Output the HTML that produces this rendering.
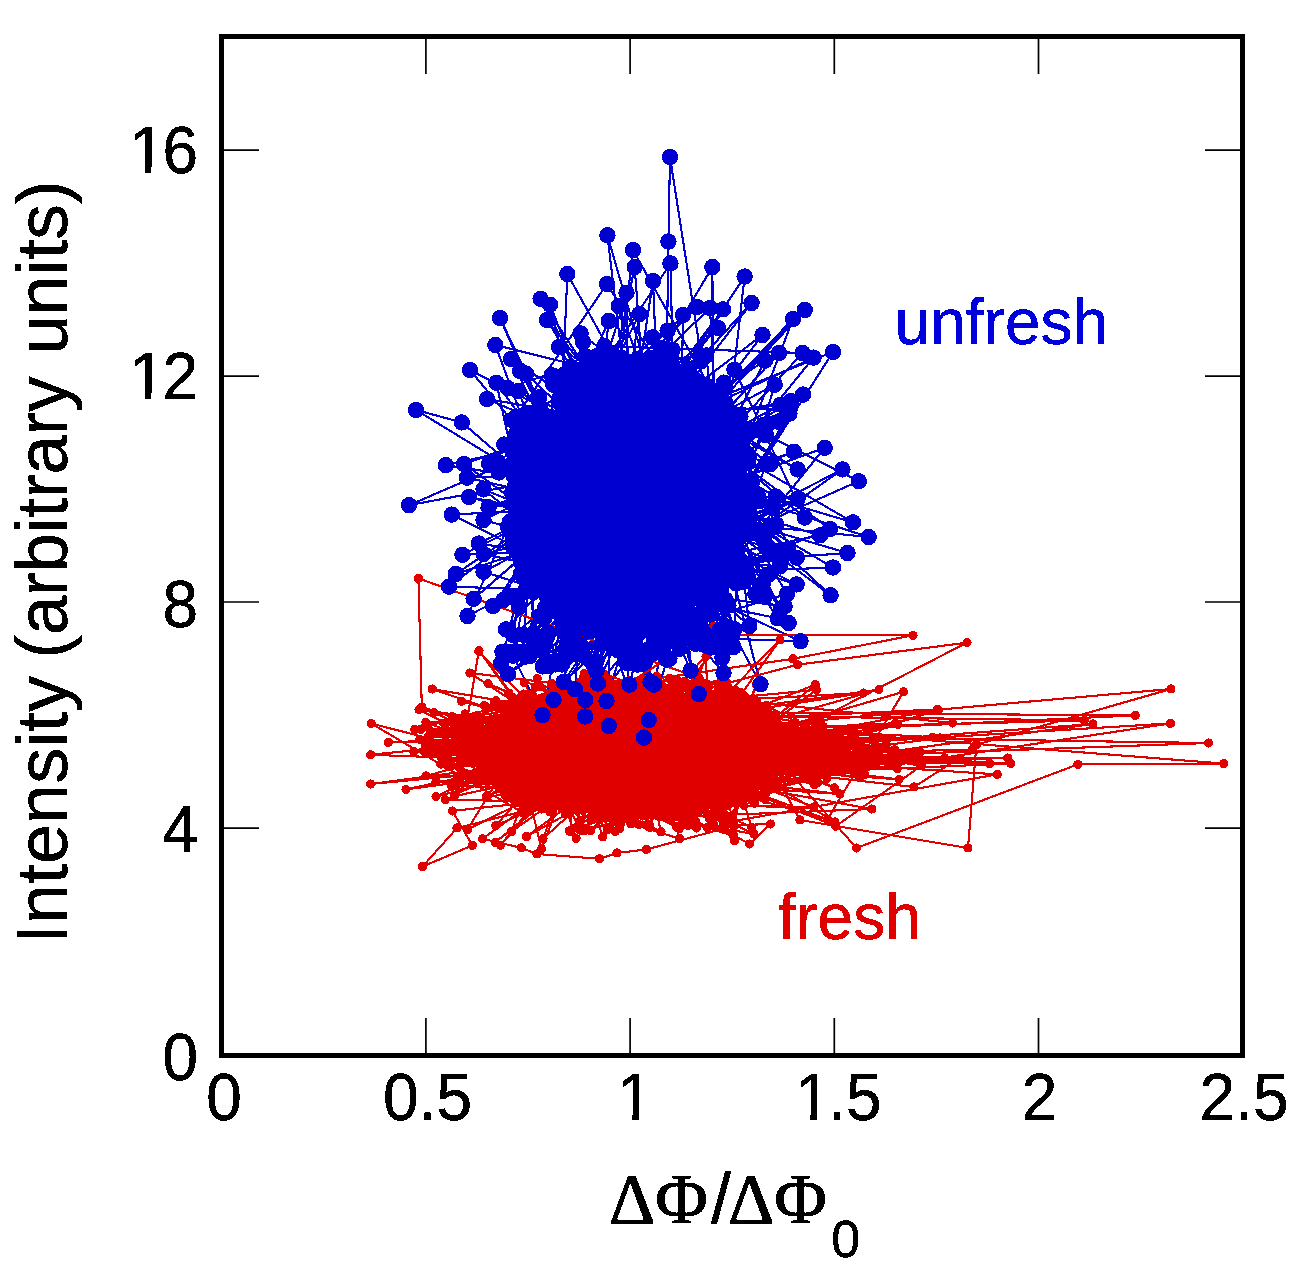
<!DOCTYPE html>
<html><head><meta charset="utf-8"><title>Intensity vs phase</title>
<style>
html,body{margin:0;padding:0;background:#fff}
svg{display:block}
text{font-family:"Liberation Sans",sans-serif;fill:#000;stroke:#000;stroke-width:.45px;font-kerning:none}
.s{font-family:"Liberation Serif",serif;stroke-width:1px}
</style></head><body>
<svg width="1309" height="1275" viewBox="0 0 1309 1275">
<defs>
<marker id="mr" markerUnits="userSpaceOnUse" markerWidth="10" markerHeight="10" refX="5" refY="5"><circle cx="5" cy="5" r="4.6" fill="#e00000" shape-rendering="crispEdges"/></marker>
<marker id="mb" markerUnits="userSpaceOnUse" markerWidth="18" markerHeight="18" refX="9" refY="9"><circle cx="9" cy="9" r="8.2" fill="#0000d0" shape-rendering="crispEdges"/></marker>
<filter id="al" x="-5%" y="-5%" width="110%" height="110%"><feComponentTransfer><feFuncA type="discrete" tableValues="0 1"/></feComponentTransfer></filter>
<filter id="bw" x="-5%" y="-5%" width="110%" height="110%" color-interpolation-filters="sRGB"><feComponentTransfer><feFuncR type="discrete" tableValues="0 1"/><feFuncG type="discrete" tableValues="0 1"/><feFuncB type="discrete" tableValues="0 1"/><feFuncA type="discrete" tableValues="0 1"/></feComponentTransfer></filter>
<polyline id="pb" points="602.1,552.8 548.7,454.7 569.3,591.2 610.7,520.3 601.5,430.9 614.2,518.7 575.3,431.1 696.4,380.6 464.2,464 578.3,547.4 635.6,513.2 599.5,469.3 562.5,509.9 644.4,486.6 595.8,630.4 606.1,544.8 548.2,462.9 674.4,618.5 656.5,401.2 830,529 644.3,602.8 656.3,474.9 736.9,548 728.6,422.9 562,664.5 583.7,513.5 610,459.2 493,606 637,393.2 712.4,267 713.4,490.2 575.9,541 660.1,428.7 685.1,542.5 697.2,436 556.5,586.2 707.7,426 532.7,423 643.9,572.8 709,494.5 716.1,566 577.9,481.5 733,631.8 725.8,600.9 680.1,455.6 626,598.6 508,674 641.5,563.2 678,515 613.5,505.9 562,455.3 637.1,579.8 513,503.5 637.1,507.2 561.3,446.7 615.3,514.7 572.8,575 681.3,397.5 670.8,389.1 659.7,492.9 615.3,412.8 588.4,495.7 740.8,437 687.3,471.6 703.6,615.8 557.3,588.3 616.5,445.3 573,479.9 724,463.2 679.6,534.8 650.3,423.7 662.1,564.9 530.8,454.5 641.6,410.3 604.8,574 624.8,545 549.7,489.5 674,543.2 535.2,519.5 573.1,539.9 588.5,369.7 558.1,532 579.8,438.7 682.8,589.4 507.8,526.9 672.5,383.7 549.2,446.5 606.5,701 670.2,484.7 614.7,517.5 682.2,623.5 729.8,430.7 652.4,501.2 636.4,582.7 621.5,466.5 589.7,615 647.1,412.3 553.2,384.4 729.2,578.3 649,488.9 489.2,463.9 661.3,488.3 755.3,593.9 698.7,414.9 483.5,520 645.6,564.9 703.8,550.9 636,516.4 720.2,501.8 716.4,512.6 641.9,475.7 672.5,385.5 533.2,440.1 726.7,478.3 585.2,593.3 556.5,422.4 603.4,412.9 660.1,403.6 604.8,591.7 842.4,469.4 644.1,609.3 620.1,547.7 627.6,592.5 670.7,608.8 607.9,468.9 673.3,463.2 724,440.4 682.4,479.1 654.9,413.4 657.7,487 652.7,518.8 585.5,434 502.4,651.8 655.1,549.4 668.5,432.9 723.5,534.6 618.4,530 535.1,491.4 718.5,581.6 689.5,426.4 724.7,514.9 668.8,525.2 650.7,549 627.1,551.2 621.9,450.2 623.3,583 674.1,497 646,606.5 744,563.9 595.6,444.5 592.1,456.2 608.8,321 528.5,499.9 602.7,609.4 698.9,549 603.4,564.3 691.6,465.1 678.1,463.8 709.2,426.6 514.9,486.2 657.7,526 565.5,439.2 623.3,476.1 527.5,559.5 664.8,444 632.1,622.1 658.3,550 530.1,552 619,455.7 557.3,532.6 629.2,453.4 605.6,514.6 542.3,590.7 636.2,370.5 601.8,437.8 600.8,455.2 612.2,559.2 640.5,498.1 649.4,485.4 574.6,562.2 623.9,634.6 648.4,507.8 647.2,593.2 449,586.6 570.1,494.3 620.9,413.7 576,396.8 589.4,515.3 633.4,555.9 720.9,595.2 540,406.9 607.5,463.3 634.1,467.1 708.2,434.5 669.8,369.8 608.2,482.6 673,480.7 612,475.9 650.1,504.6 658.7,641.7 671.9,550 749.4,493.7 603.3,481.9 610.7,490.4 602.9,562.1 635.4,537.5 644.6,482.4 551.6,535.1 622.5,437.6 627.2,628.9 587.5,439.5 557.5,387 661.4,632.3 695.3,570.7 627.7,497.2 728.7,559.4 678.8,388.1 598.6,514.5 624.8,661.3 614.1,463.5 598.9,488.1 714.9,585.3 621.4,579.7 582.5,522.8 640.2,397.1 624.1,493.4 575.7,540 619.4,390.3 700,474.8 663.9,422.1 684,520.1 565.9,597.9 483.5,571.8 626.4,496.6 698.1,415.7 604.2,378.9 639,506.4 576.6,625.8 633.7,527.8 742.3,455.9 686.6,466.1 644.5,575 632.5,586.5 725.3,446.1 744.6,276.5 660.9,402.3 748.9,430.7 583.2,596 630.1,450.7 698.8,694 657.6,526.2 553.7,446.1 569.5,628.3 547.7,486.4 676.5,474.6 635.8,458 634.7,428.1 601.8,529.7 671.1,515.9 702.4,494.3 659.4,517.2 653,534.6 635.9,565.7 762.7,583.7 594.3,590.1 608.6,415.9 637.1,578.7 617,530.2 620.1,395.7 620.2,537 698.2,397 714.9,561.2 642.9,467.4 594.4,506.6 632.1,559.5 666.1,407.8 543.9,495.5 546.7,444.5 641.6,568.4 527.2,586.9 605.4,433.1 684.5,554.5 668.5,428.6 569.7,415.4 635.9,444.8 612.4,510.3 671.1,475.2 682.3,398.8 651.2,522.6 602.7,566.5 584.4,563.5 571.9,429.4 686.7,613.6 568.5,436.5 624.2,466.3 706.6,551.4 742.1,518.6 732.8,491.1 524.9,427.9 560.1,503.6 682.2,631.9 657.9,498.2 650,485.4 705.8,527.5 644,737.6 550.3,452.9 680.4,452.3 638.7,385.1 582,517.4 524.4,512.4 469,497 713.5,547.3 542.5,429.9 626.8,455.5 666.1,535 650.7,510.8 611.7,535.8 662.5,450 678.2,590.7 698.8,504.1 662.6,462 722.1,522.6 615.2,557 718.2,491 600.7,462.9 651.2,453.6 591.4,661.7 564.9,571.2 696.2,499.9 579.9,501.1 612.5,567.5 616.5,561 629.4,684.7 704.3,397.4 588.9,480.5 622.8,434 605.5,534.7 609.8,463.9 526,656.5 575.5,479.4 572.1,544.7 531.5,470.3 664.3,414.8 673.7,535.1 623,634.1 662.8,385.2 665.4,464.7 700.1,545.8 580.1,398 629.1,488.7 574.3,549.4 679.6,648.8 643.9,596 680.1,513.7 767.3,424.6 554.7,584.6 596.9,492.3 612,621.7 726.2,413 556.3,523.2 639,477.8 622.9,403 664.3,359.3 648.8,379 566.6,546.4 637.5,664.6 613.9,538.5 601,560.8 680.3,568.7 700.5,420.2 615.9,377.1 616.5,535.2 697.9,527.8 605.8,497.8 633.9,562.5 599,507.8 697.7,575 601.2,463.3 586.8,413.2 619.6,576 833,567.5 664.6,468.3 736.9,567.1 733.6,647.1 688,520.8 666.5,377.8 722.2,604.1 612.1,420.6 709.7,518 710,528.6 665.2,564.5 562.9,435.8 672.3,473.2 576.2,486.6 652.8,377.1 644.6,566.5 648.8,720 629.2,480.4 626.9,435.1 662.6,626.8 624.4,427.9 599.2,498.2 565.9,534.2 513.2,597 667,523.1 545.1,563.1 567.7,388.7 648.6,531.4 619.9,613.2 572.1,579.5 722.1,530.8 575,689.4 587.2,514.2 619.9,586.7 613.1,465.1 655.9,502.3 708.7,547.9 573.4,508.6 643.6,567.7 680.5,406.1 588.9,437.7 562.5,595.2 554.5,544.3 696.8,521.3 667.2,477.1 643.6,611.5 596,586.6 613.6,367.4 749.4,508.7 559.9,491.1 645.5,507 695.3,389.4 622.6,461.2 563.6,456.2 684.7,503.4 661,647.9 701.7,465.7 673.3,423.3 655.1,414.3 573.4,493.2 598.7,487.7 622.3,524.4 678.6,501.5 590.5,472.8 557.4,470.5 569.9,416.2 691.4,443.8 647.1,549.5 520.4,420.2 622,586.9 721.8,507.8 634.1,560.9 646.7,530.1 571.6,651.2 648.6,554 611.7,385 596.1,573.3 560.8,462.7 611.1,471.5 650.8,546.3 647.4,455 555.8,541.4 692.1,482.8 647.2,417.9 692.8,622.1 605.2,504 542.2,532.7 610.2,533 588.2,540.5 536.2,545.6 514.2,519.7 662.4,411.4 601.2,644.6 636.5,498.6 673.4,464 607.4,235.3 654.7,631.4 521.4,547.4 728.4,515.3 672.5,464.8 643.2,394.7 595.5,398.1 623.1,429.2 634.5,600.7 542.7,666.4 650.2,396.5 645.1,558.9 603,598.1 562.8,481.8 621.8,491.9 687,429.2 624.7,512.9 559.3,420.5 616.7,422.1 545.5,615.4 644.9,455.2 766.3,435.3 660.8,395.9 550.6,534.8 645,369.3 514.8,532.5 687.6,371.7 723,309.4 523.2,573.1 688.6,411.3 664.4,502.3 634.6,474.4 672,619.7 666,504.9 622.7,532.3 542.4,516.7 716.5,494.1 656,413.1 619.8,516.9 649.3,594.3 664.3,528.6 668.4,241.6 670,157 701,356 510.2,467.6 694.3,507.8 650.3,358.2 574.9,481.9 636.7,571.7 470,370 657.6,467.1 737.8,568 645.1,471 620.5,557.2 657.1,623.8 740.2,572.2 553.5,553.4 642.8,493.2 553,515.5 640.7,519.5 626,440.2 672.1,432.7 519.1,438.6 536.4,508.9 647.6,459.2 635.8,479.6 709.8,583.5 543.2,564.2 681.8,528.2 603.4,536.1 695.4,567.7 634.9,624.2 609.6,456.9 690.3,478.7 587.3,544.2 688.5,620.1 561.8,589.2 610.2,563.6 592.1,437 664.7,515 697.3,506.3 685.8,376.5 562.9,593.2 626,627.1 547.7,515 652.4,501.8 612.9,424.2 611.5,476.5 629.7,430.8 583.6,492.1 669.4,633.6 565,439.6 591.4,487.6 478.8,543.5 627.5,567.6 605.8,500.8 710.9,549.9 557.4,610.3 661.9,483.9 614.2,507.9 721.7,545.3 669.7,519.1 627.6,663.5 600.4,477.5 588.2,423.5 562.6,573.6 648.3,649.6 673.4,397.2 619.4,396.1 496.5,461 569.2,463.1 676,441.2 623.2,508.9 574.9,584.2 682.1,499 656.1,637.3 722.7,638.8 535.3,545.4 596.5,670.6 628.4,586.8 665.6,488.7 642.5,466.5 543.4,482.8 527.2,496.1 534.2,645 583.1,489.8 650.6,682 592.4,600.5 634.6,515.7 580,391 656.5,551.2 670,558 618.7,306 682.5,478.1 512,420 661.2,348 651,456 610.7,505.8 747,453.6 641.6,424 719.2,516.8 584.9,581.5 569.2,533.4 527,466.6 645.4,496.5 668.8,509.7 687.8,402.2 729.9,472.8 667.8,367.3 647.8,521.6 764.7,596.5 634.5,405.6 525.4,415.7 633.2,551.4 702.1,558.3 793,319 561.5,561.1 674.9,447.6 649,414.3 611.6,524.2 723.3,458.2 635.6,490.6 746,573.8 630.2,575 682.9,538.5 711.7,461.3 684.3,501.1 699.4,415.8 686.2,545.4 462.4,554.8 545.7,513 648.4,487.7 574,580.7 555.3,501.1 620.6,357.5 628.2,488.1 534.3,535 710.7,595.6 660.5,425.7 695.4,486.4 705.9,504.9 690.9,498.4 637.6,497.4 668,527.6 625,542.4 627.3,634.2 744.9,452.5 542.8,462.2 636.6,631.5 612.9,526.1 578,586.7 660.4,604.3 728.5,512.1 714.9,452.1 559,347 610.2,433.2 641.3,491.3 540.6,298.8 691.3,529.5 545.6,512.3 644.7,511.3 673,471.8 563.5,511.8 542.6,470.4 524.4,460.7 513.1,451.1 574.5,426.7 657.8,479.7 670,518.7 696.3,592.7 594.8,471.9 632.7,362 597,498.6 588.6,437.8 671.3,360.8 661.6,452.7 653.5,485.8 606.4,480.8 633,250 731.2,425.7 729.9,518.4 621.9,471.7 600.3,492.9 709.6,526 700.4,588.5 728.9,532.2 665.2,384.2 586.9,401.9 623.1,464.2 683.1,607 764,432.4 524.3,450.4 680.5,402.4 663.2,517.5 597.7,450.7 644.5,608.1 741.5,499.1 638.3,429.8 610.8,589.7 732.2,523.6 663.7,435.3 658.2,394.3 597.6,435.4 577.5,452.1 657.1,495.1 627.2,416 569.9,576.2 629,547 601.5,392.2 604.2,485.6 742.8,574.5 618.3,650.6 677.8,568.2 643.7,516 614.1,510.6 650.4,519.3 659.8,489.8 670.6,443.6 673.2,478.6 707.3,646 599.3,375.5 557.5,547.8 604.6,489.3 542.8,486.2 747.1,521.3 683.6,462.8 664.9,502.6 580.8,480.7 705,454.5 702.1,616.5 659.2,536.9 682.8,386.6 552,457.8 661.5,471.8 565.1,477.1 706.5,487.8 653.6,455.3 557.2,502.1 702.5,478.3 628.9,604.1 606.6,450.7 487,399 679.2,432.3 670,484.7 613.2,458.1 691.2,421.3 527.1,452.8 698.2,488.8 794,451.8 622.4,510.9 518.2,424.5 614,539.2 581.9,618.4 722.9,507.6 615.2,429.7 520.8,457.7 652.9,439.2 716.6,428.2 706.6,497 644.7,597 659.8,560.5 676.7,453.9 744,497.6 700.1,546.7 574,504.4 640.1,497.1 668,508 626.1,479.3 607.1,404.1 788.1,549 676,441.9 614.8,470.2 555.6,477.4 573.2,632.7 674.6,526.2 558.8,491 711.3,647.5 615.4,437.7 579.4,559.1 690.7,513 650.8,499.2 668.8,552.3 655.2,405.1 789.4,410.2 546.1,500.6 569.5,511.2 539,397.4 625.8,507 611.8,575 585.4,356.2 542.9,493.9 693.1,468.7 732.6,629.9 655.9,573.1 628.2,397.7 729.5,491.3 620.5,625.4 718.4,564 619,509.1 652.7,370.5 658.9,582 661.1,443.8 602.5,529.2 643.3,578.2 723.5,673 730.8,533.7 653,468.8 570.5,434.4 618.7,550.6 544.6,617.7 634.8,511.2 779,353 689.8,451.6 646.7,465.4 653.5,426.3 670.2,585.7 712.8,484.8 616,547.1 672.5,556.7 644.1,519.2 678.7,441.6 627.7,589.8 648,500.7 691.9,488.8 653.8,433.1 635.3,484.5 596.2,494.8 688.9,388.5 651.6,512.4 605.5,584 651.6,500.2 643.1,368.6 623.2,573.3 607.1,479.6 746.2,503.3 684.5,500.6 713.9,577.8 583.1,491.2 673.4,631.7 585.3,509 626.4,584.9 670.5,378.5 570.7,559 551.9,527 663.5,490.2 639.1,556.9 547.7,540 724.5,493.5 533.7,502.6 555.2,465 582.9,424.3 737.4,462.2 591.9,512.8 675.8,435.1 587.9,520.3 717.8,440.7 666.3,635.6 623.6,596.6 659.7,497.1 676,505.8 528.7,531.4 725.8,410 663.1,415.1 581.2,463.6 619.8,548.5 609.8,587.7 576.8,504.1 542.4,651.1 668.6,502 553.3,568.1 539.2,554.1 673.9,641.1 620.8,409.6 650.2,582.1 620.1,424.5 566.3,619 642.1,457.1 673.4,631.1 643.2,368.8 644.2,562.6 690.6,670.6 674.8,402.5 568.2,561.9 587.4,581 684.8,386.9 640.6,525.5 696.6,400.2 858.8,481.2 664,567.3 697.7,461 675.4,524.3 700.5,572.8 663.3,402.4 692.5,565.1 537.2,577.2 555.4,426.5 694.7,525.1 759.3,501.2 598,683.5 687.1,484.1 651.9,455.7 617.2,531.3 609.8,449.3 691.2,523.8 640,503.2 693.5,535.2 665.1,539.4 546.6,596.3 544.6,523.2 619.4,532.8 525.3,434.7 633,479.6 646.2,503.9 614.2,386.5 701.5,459.3 704.6,452.8 617.4,503.2 612.8,446.2 572.2,587.1 590.1,393.7 718.2,489.1 685.7,526.7 631.8,486.5 615.6,427.2 642.4,589.7 683.9,588.3 555.3,573.4 706.7,556.1 669.2,571.9 660.1,425.2 587.4,520.2 645.2,569 563.3,561.4 685.8,450.2 617.5,468.8 672.4,388.7 688.8,489.2 572.2,553.4 627.2,375.8 648.2,423.5 540,441.9 637.8,509.8 660.8,543 682.5,449.4 630.8,513.4 657.1,498.3 524.1,473.6 671.6,396.7 559.1,499.1 578.3,542.2 641.1,610 597.9,475.2 658.2,621.4 601.4,474.7 587.5,370 532.3,497.7 590,624.3 638.5,548.9 654.3,493.8 520.8,574 646.7,446.9 550.7,579.9 629.9,563.4 668,492.8 541.3,559.8 451.8,514.6 752.8,498.3 670.6,527.4 659.1,441.6 632.2,495.5 722,438.2 586.8,497.5 576,468.8 640.8,388.3 629.3,422.9 623.1,448.3 597.9,355.3 551.6,375.2 711.2,563.1 657.5,418.9 532.9,507.8 630,363.7 595.7,661.3 663.5,624.2 603.1,444.5 612.5,507.1 618.4,467.2 612.3,640.2 553.8,466.7 675.7,462.9 644.1,564.7 604.7,517.8 674.6,534.4 509.9,521.9 556.7,435.5 610.2,450.5 636.1,479.3 667,472.2 585.3,716.5 650.2,629.2 600,533.9 726.7,438.5 644.4,468.5 716.8,470.6 663.1,514.4 611.1,358.2 541.7,453.7 673.8,368.4 564.5,374.3 627.5,579.2 649.8,497 614.3,586.5 643.1,524.7 609.8,599.5 691.2,413.5 651,568.7 662.6,500.2 713.8,474.2 507.6,388 570.7,367 650.7,551.9 732.8,525.4 698.4,388.4 578.6,508.8 676.7,450.1 780.7,609.9 564.8,466.8 589.7,493.7 661.4,560.7 619.4,514.2 565.1,659.2 529.9,502.6 681,576.6 603.9,476.5 544.4,461.4 606.7,419.4 704.5,446.9 524.6,591.8 561.3,488.7 513.4,461.9 634.9,507.7 643.6,475.8 575.3,488.9 605.6,608.9 609.7,572.1 523.8,528.8 679.9,393.5 549.4,666 722.9,428.3 663.6,369.4 685.8,593.6 676.5,528.9 670.5,263.5 547.9,447.8 535,458.1 668.3,477.1 672.1,473.6 515.6,509.7 641.2,575.3 591.1,393.2 657.9,462.5 665.7,428.9 565.4,476.2 578.8,495.1 561.9,579.2 708.4,515.8 652.7,337.3 714.9,572.1 580.7,525.4 586.3,498.3 719.3,466.8 685.7,427.9 651.7,549.6 700.9,529.1 656.7,410.7 695.5,425.3 669.1,449.7 513.2,547.3 599.2,481 572.8,472.5 526,373.6 720.9,558.5 562.7,478.7 697.1,541.3 609.6,517.4 655,481.4 557.8,591 652,475.1 544.4,446.4 632.3,552.4 591.8,434.3 722.4,657.6 678.3,562 546.1,518.7 657.5,611 687.6,372.3 702.5,644.4 519.4,652 622.1,444.3 637.6,581.5 751.7,492.7 672,504.5 630.1,537.3 553.8,505.6 589.6,555 575.8,463.7 672,376.8 611.7,523.8 512.7,538.8 748,462.2 606.8,522.2 678.4,607.3 618.6,571.1 669.6,550.7 639.8,374.8 669.1,443.6 663.5,483.4 597.9,630.7 576.6,402.8 609,490 617.9,550.3 653.7,642.6 610.7,538.4 625.3,463.8 551.3,494.6 622.1,514.2 645.5,493.1 643.8,394 656.1,405.3 642.7,444.9 697.5,630.2 658.5,504.6 601.7,486.4 541.3,505.1 693.9,501.3 671.8,604.8 833,352 680.5,412.7 445.9,465.2 657.8,497.4 599.6,563 618,491.9 631.2,650.2 619.6,439.8 610.5,485.7 604,443.7 625,460.6 602.4,582.1 642.2,434.4 723.9,382.6 702.2,412.7 548.4,453.9 641,506.9 573,384.3 639.2,524.3 594.7,440 554.5,497.8 622,426.3 780.6,404.7 717.4,438.9 721.5,598.3 784.6,606.4 526.3,427 590,444.3 569.6,570.7 663.4,479.4 698.3,587.9 607.9,559.6 565.2,649.1 617.5,516.1 721.8,551 635.9,604.9 644.8,662.2 612,511.5 630.6,400.6 533.8,552 733.9,448.3 691.3,585.8 598.9,544.8 605.9,521.9 664.8,467.5 542.8,561.8 614.7,625.6 665.5,406.4 610.9,397 608.8,514.1 638,496.2 539.3,427 671.1,511.9 624.1,501.1 657.7,480.8 653.3,520.8 644.4,363.8 629.7,459.1 632.3,479.3 557.9,572.9 684.2,433.7 774.7,384.7 729,542.2 613.5,450.9 621.1,487.5 648.9,501.2 650.9,526.5 584.2,656 586.4,597.8 610.2,598 580.6,333.4 668,401 654.7,445.8 644.1,470.9 636.4,547.4 621.2,542.8 763.5,424.8 553.1,605.6 618,440.1 597.9,518.7 663.5,582.8 604,436.9 646.4,589.2 599.1,405.3 697,307 609.7,373.8 632.1,477.6 713.7,591 643.7,521.6 653.4,448.4 577.7,544.2 606.3,541.5 609.1,538.5 608.8,725.9 525.5,500.7 525.2,448.1 601.3,499.6 634.9,663.6 609.3,404.1 675,439.8 612.6,418.9 622.1,372.7 568,485.7 605,492.8 677.1,451.8 548.8,570.3 503.5,600 608.7,362.1 582,484.2 698.8,458.1 697.1,458.5 567.9,489.6 566.9,539.9 561.1,466.9 623.8,491 634,519.8 628.5,491 609.7,543.5 607.2,515.5 741.7,446.3 813.5,357.6 690.3,415.4 574.9,461.9 626.5,293 628.1,383 631.3,533.5 684.2,517 604.1,527.8 614.4,590.4 588.2,501.3 668.9,463.7 676.7,574.8 663,530.8 519.3,516.2 643.5,546.9 612.8,522.2 617.5,475.1 473.6,598.8 573.4,512 671.3,481.3 591.4,464.5 715.3,491 562.3,438.5 681.1,415.6 684.1,428.6 549.4,459.6 649.4,484.3 653.7,485.2 611,588.1 571.4,504.7 596.7,387.8 674.3,485.1 627.9,490.7 589.2,568.3 591.3,516.9 416,410 461.8,422.4 600.6,541.5 599.1,525.5 496.4,382.8 545.1,607.8 521.2,562.2 483.5,554 657.6,511.7 542.6,442.5 652.2,496.5 642.6,512.7 669.8,408.7 624.7,518.2 643.3,613 652.9,371.4 574.3,458.9 578,457.6 623.3,519.9 681.3,557.4 593.9,463.2 634.7,267 643.9,392.4 677.3,604.9 662.8,494.4 679.7,427.7 696.6,564.6 675.1,579.9 648.8,359.3 626.1,537.1 520.4,523.8 640,431.7 598.3,536 774.1,526.6 663.6,467.6 699.1,494.7 703.2,515 627.6,499.9 652.1,443 572.9,556.6 607.6,539.7 483.5,489.4 545.8,539.8 694.5,567.2 606.1,516.3 595.6,569.2 559.6,510.6 656.8,570.1 677.2,594.7 574.2,420.1 630.2,398.3 766.2,463.9 710.5,614.3 600.7,418.5 567.1,516.3 659.8,439.3 682.5,517.4 708.1,636 718.3,555.6 665.1,454.6 544.8,479 692.5,457.1 788.7,623 710.2,478.3 663.6,473.3 528,517.6 584.9,484.4 581.6,483 668.2,429.6 690.7,407.1 583.6,550.8 602.3,576 553.4,554.4 580.9,536.4 565,414.6 651.8,379.2 700.6,440.6 655,631.5 775.4,551.2 675.7,483 655,584.8 536.8,584.9 709.7,434.6 595.4,465.2 608.2,374 595.9,518.5 707.2,517.9 661.9,559.3 516,433.9 567.3,422.2 614.1,508.7 635.3,458 595.8,547.3 573.6,455.2 627.9,569.1 847.5,553 641.2,492.3 672.7,527.2 613.4,483.5 684.4,510.4 726,466.1 656.8,577.3 606.8,499.1 574.5,481.2 663.9,556.8 618.7,378.2 692.2,633.7 590,448.2 606.5,620.4 617,627.6 593.8,453.7 676,537 599.7,504.5 575.4,483.8 644.3,365.3 580.9,427.2 652.2,423 580.7,505.1 710.4,546.3 710.7,582.4 650.1,584.1 765,360.7 571.4,485.7 676.9,497.8 541,474.6 642.3,413.9 661.5,559.8 602.3,517.2 653.8,486 604.6,601.1 636.9,496.9 661.5,470.1 654.7,462.4 692.4,460.9 547.5,661.6 715.1,430.8 618.6,454.3 686.6,498.9 656.2,544 680.9,503.7 646.6,364.7 539.7,556 617.6,406.6 629.5,480.1 686.3,514.3 585,595 537.5,455.7 674.5,528.1 621,533.2 593.2,601.2 629.7,483.8 660.3,547.4 640,628.5 625.7,384.3 543.5,508.9 685.2,400 723.8,600.8 523,456.6 648.9,505.5 586.6,466.3 723.9,389.3 539,584.5 643.8,477.2 554.5,538.4 611.3,390.2 670.7,496 614.8,593.7 642.2,505.8 685.5,504.9 731.7,439.7 621.7,461.5 720.6,562.9 592.5,492.1 588.5,630.7 583.6,525.8 674.4,431.3 690.9,630.5 593.4,488.6 607.8,535.1 592.2,521.4 710,415.1 674.3,579.2 585.5,457.1 626.9,397.2 574.2,425.7 635.2,523.7 532.2,518.6 549.7,444.5 593.8,453.9 652.4,506 586.9,475.2 570.8,517 613,405 558.9,402.2 672.4,448.2 734.1,498 675.7,512.8 620.9,600.6 672.1,489 708,580 571.4,503.8 638.9,517.5 590.2,502.5 728.9,514.9 580,610.2 666.9,659.6 561,493.7 731,470.4 749.4,626 608.8,501 665.6,417.5 614.3,631.6 506,629.4 650.3,471.5 531.5,585.7 588.7,521.9 609.2,452.5 628.9,522.1 642.4,543.6 644.6,424 617.1,448.4 656.6,469.3 657.1,558.9 682,532.5 580.9,455.2 704.9,456.2 638.6,371.7 582.9,450 718,328 581.7,470.9 681.9,477.5 593.2,417.9 707.2,533.3 612.4,433.2 678.9,483.4 583.1,517.3 693.7,387.2 619.6,559.8 593.9,416.6 699.3,399.7 704.4,566.8 601.8,520.4 686.6,419.7 600,492.6 596.7,562.1 637.9,623.3 588.7,455.1 536.4,577.9 571.8,590 578.6,415.3 581.9,421.5 704.3,385.1 698.8,518.9 628.5,548 635.7,511.6 712.4,505.6 655.5,460.5 636.4,513.9 868.7,537 636.5,462.1 540.3,615.7 675,391.2 633.9,602.4 580,644.5 681.1,463 721.3,555.2 659.8,494 582.4,426.8 703.9,573.3 690.2,527 667.8,540.5 593.3,536.2 574,514 657.5,487.6 660.9,597 645.8,513.5 526.6,582.1 628,458 622.5,599.1 621.3,397.9 711.8,555.7 583.4,491.4 586.2,461.7 553.4,375.9 684.8,586.1 643.8,471.6 583.8,504.6 672.5,531 577.2,370.2 598.4,425 686.7,485.6 512,493.1 659.1,517.3 703.7,407.9 553.6,418.3 645.9,449 643.8,489.7 619,393.7 779.7,564.7 535.2,459.8 569,597.3 691.3,467.5 698.4,515.2 709.6,503.3 743.7,437.7 729.6,415.6 694.7,502.4 557.9,518.1 684.7,470.4 649,629.2 682.3,474.5 551.5,512.7 643.8,376.7 632,418.9 653,281 662.2,504.6 559.1,593.2 676.1,403.7 764.6,536.2 601,511.1 640.6,455.5 551.6,455.4 613.6,485.4 650,429.1 612.1,369.1 639.4,314 611.6,495.4 663.1,616.8 666.4,436.9 605,528 719.5,629.9 668,450.8 656.7,544.5 617,420 623.7,404.7 707.9,530.1 607.5,583.5 597.2,541.8 614.1,517.2 539.3,575.7 600.9,520.1 634.2,455.6 564.4,563.1 610.3,584.6 696.6,512 717.2,598.6 687.2,465.1 554.4,542.1 690.6,380.4 796.7,557.7 690.8,521.6 651,479.4 653.5,622 523.5,514.1 658.3,504.5 557.8,609.8 712.6,390.6 657.6,472.4 605.2,467.3 626.6,437.3 595.7,509 582.9,405.9 705.1,532.9 698.9,592.2 570.7,522.6 548,462.8 620.3,478.2 656,550.8 565,380.1 555.9,496.1 605.4,531 688.6,426.7 618.5,438.7 566.1,469.5 567.2,518.8 561.1,470.4 651.7,554.6 775.7,496.6 702,454.7 606.2,352.5 804.7,517.6 734.4,369.7 703.1,589.4 683.7,403.5 767.1,548.5 666.3,610 679.6,563.5 776.5,524.7 546,421.4 648.9,480.4 630,534.7 688.5,496.5 610.2,472 720.1,517.3 727,646.6 623.9,551.5 653.3,440.1 707.4,472.2 656.8,548.8 602.2,417.2 613.6,513.6 567.9,641.2 644.5,518.3 565.4,444.1 612.9,458.3 605.5,621.7 529.9,539.4 696.2,495.7 646.5,403.1 690.4,471.9 746.5,504.6 640.7,516.2 594.7,550.3 467.5,616 542.2,451.4 646.8,382.1 664.1,530.9 663.3,551.9 603.6,463.4 589.8,504.9 673,409 723.3,530.4 561.3,576.9 611.4,539.1 656.2,443.2 677.1,633.3 650.7,414.7 672.3,503.6 670.7,558.9 735.9,583.3 616.1,577.7 511,359 674.4,467.9 567.4,274 560.1,439.2 711.1,479 516.2,491.9 621.6,397.5 606.9,492.8 649.5,541.6 626,461.5 578.8,481.7 645.8,565 619.8,407.4 652,582.4 626.9,514.9 730.6,441.9 656.7,407.6 748.7,456.3 648.9,507.8 637.1,365.4 614.3,558.4 632.3,606.2 607.3,501.9 574.3,498.4 758.1,496.1 713.2,522.6 670.9,557.7 578.3,460.2 622.1,376.6 684,408.8 636.4,496.9 711.9,416 564.9,610.4 523.8,635 535.5,498.4 543.3,638.4 589.1,503.2 665.7,579.8 582.9,616.6 640.9,396.2 551.8,455.9 638.1,537.1 725.8,555.1 509,652.1 632.6,504.1 673.6,520.1 760.5,684.2 699.5,449.1 634.4,635.2 660.1,374.9 592.5,368.5 722.1,541.9 732.5,562.5 660.6,571.1 601.9,497.5 661.6,562.9 637.5,511.5 729.1,457.7 650.8,358 582.3,438.3 744,581.8 586.3,459.3 740.9,481.3 698,544.5 634.4,457.4 646.5,386.4 630.2,492.4 522.7,529.7 556.3,517 678.9,482.3 618.3,514.6 603.1,507.2 656,457.3 614.5,467.1 675.1,550.4 573.6,471.4 645,476.8 688,620.1 650.4,439.7 609.9,571.4 571,424.8 715.9,414.7 631.5,547.7 612.8,482.7 636.5,404.8 533.1,592.2 594.2,386.8 534.9,455.5 570.9,442.3 611.1,465.5 716.9,583.5 666.9,427.2 547.1,481.6 600.4,612.6 636.4,535.5 599.9,508.6 585.6,403.6 681.5,468.9 575.6,400.8 657.2,491.4 618.7,452.3 672.7,534.1 679.5,419.5 674.3,531.7 727.3,453.8 706.5,508.7 597,490.4 651,514.1 604.6,491.5 560.8,510.5 678.3,480.2 724.7,503 672.3,604.5 652.7,582.2 727,481.2 488.6,507.3 593.7,468.9 633.7,438 610.1,571.8 577.3,567.1 565.1,444.1 686.9,507.2 658.5,372.4 584.7,499.5 539.6,475.9 684.3,612.6 680.3,419.1 619.7,560.1 640.3,488.7 668.6,516.6 645.8,537.2 621.4,617.5 688.5,426.6 853,522.4 693.3,475 643.4,438.4 614.4,647.3 528.3,538.6 591.5,437.9 622.4,515.1 523.3,527.6 631,379.7 698,464.5 703.2,576.1 711.1,606.9 686.7,583 527.1,440.2 685.6,452.6 685.9,570.9 629.6,388.1 651.2,558.6 569.6,507.8 680.6,546.6 691,388.8 625.2,375.2 640.4,550.7 603.2,391.3 591.6,492.3 664,450.2 704.1,535.3 651.3,495 554,492.4 608.8,563.2 594.6,665.9 644.7,481.9 575.3,513.7 580.8,462.3 712.6,430.6 595,560.6 538.7,461.1 687.1,619.7 558.4,561.5 665.6,505.1 658.5,446.3 620.4,475.6 636.4,514.4 577.8,434.1 681.7,536.7 648.8,506.6 666.3,464.3 529.4,656.3 634,518.9 754.8,493 726.4,580.3 662.9,566.2 626.8,603.8 680.7,560.7 587.6,548.1 599,544 544.2,536.9 554.6,447.8 684.3,478.1 543.3,473.2 662.1,363.6 552.7,468.3 655.8,561.6 622.4,446.6 637.7,426.5 601.3,477.5 587.9,542.7 672.6,436.7 580.7,526.9 639.8,504.6 734.6,629.2 676.4,459.6 662,395.4 679.6,459.1 603.8,504.4 665.2,486.9 596,487.5 664.9,388.3 797.6,469.4 638.5,381.2 568.7,509.3 518.1,391.1 576.3,428.7 639.3,416.1 681.2,404.4 549.1,593.2 570,620.3 571.6,437.8 597.2,611.4 655.1,450.4 713.3,485.6 600.7,383.1 498.8,472.5 699,445.5 601.7,479.6 601.9,505.8 617.9,463.9 614,476.8 647.5,613.5 566,422.1 694.1,512.2 560.5,391.5 718.2,468.2 614.8,415.1 614.6,356.2 557.7,578.3 643,482.1 657.3,459.1 590.6,460.4 588.1,515.1 564.5,588.3 620.6,583.5 599.9,596.1 617,511.1 606.9,484.9 661.2,393.4 609.9,529.8 593.1,579.9 646.2,629 593.3,561.3 658.6,489.7 694,526 641.2,405.7 585.8,442.3 570.8,579.9 558.9,420.1 623.5,574.3 657.7,534.2 632.9,599.4 570.6,400.1 649.1,582.5 712.1,484 663.2,467.4 711.5,493.4 645.1,381 569.1,484.2 680.2,468.7 595.3,482.6 556.1,382.2 513.1,635 803,394.6 721.6,525.2 710,308 574.8,438.7 667.7,450.3 804.8,310 601.6,530 628.2,457.2 749.7,429.4 699.1,466.2 586.8,546.1 572.5,376.9 583.9,589.4 556.3,604.9 667.4,555.9 526.6,468.7 568.9,599.3 678.6,565.3 620.9,514 688.2,398.9 639.1,402.3 629.1,513.4 591.3,450.8 616.4,619.1 727.7,503.4 598.8,604.8 666.9,461.4 664.8,570.3 562.6,550.5 668,538.3 657.1,486 602.9,459.8 612.7,516 558.3,565.3 575.7,491.7 620.7,578.7 651.6,473.2 591.6,590.1 575.9,590 569.9,434.9 572.5,623.3 701.2,484.8 617.9,631.2 667.1,430 576.8,436 547.3,480.1 604.3,549.6 694.2,406.6 624.1,607.2 520.1,447.2 647.9,561.8 667.6,480.5 585.6,532.8 791,401 713.2,415 509.9,466.1 650.7,570.4 686.8,504.8 577,397.7 586.1,418.6 576,641.3 556.8,441.9 640.7,438.4 574.9,526 635.5,547.9 545.9,483.2 533.7,540.4 608.2,602.4 623.3,627.3 656.4,569.6 689.8,497.7 704.5,424 611.8,580.4 552.7,584.5 587.1,474 655.6,584.5 653.5,497.8 554.2,376.2 663.2,593.8 550,304.7 593.9,484.4 585.9,490.8 609.5,641.5 647.9,497.8 667.4,597.6 637,429.2 524.7,480 640.7,462.3 616.3,614.7 696.4,395.1 657.1,461.3 605.1,415.4 624.9,517.4 560.4,431.6 740.8,510.4 631.9,456.1 603.2,610.1 697.6,510.4 573.3,461.2 635.8,481.9 583,342 567.6,385.9 633.8,384 748.1,577.2 529.4,413.2 645.3,463.2 548.1,491.7 600,419 685.7,484.9 601.6,450.1 598.8,454 721.4,487.4 607.8,481.6 597.5,585 573,654 666.9,472 830.6,595.3 682.1,457.2 650.2,486.5 712.9,434.2 514.9,452.7 624.8,471.3 673.8,604.4 626.9,504 615.7,428.9 610.7,478.4 646.7,553.1 545,574.7 772.3,526.1 698.7,544 639.9,568.7 567.2,467.3 550.4,468.2 655.1,558.7 702.4,524.2 600.2,589.4 672.3,475.1 650.2,534.7 745.3,502.1 623.9,526.2 574.4,545 625.1,598.2 636.1,467.8 578.3,586.7 645.3,368.8 562.8,494.6 603.9,583.4 604.3,346.2 802.5,353 602.8,570.6 797.6,498.8 716.2,539.9 586.1,432.5 731.3,497.8 609.1,480.7 704,489.3 619.7,448.5 586.7,445.6 534.5,440.8 725.7,549.7 645,502.5 564.7,465.4 723.4,570.4 653.5,653.5 742.9,530.7 547.4,491.4 621.9,580.7 711.7,539.6 584.3,489.5 637.7,526.8 626.9,368.6 581.8,415 648.9,536.6 703.4,639 689.5,486.4 728.9,566.1 691.3,457.9 580.2,566.5 658.8,429.3 700.8,361.6 613.5,423.5 553.9,577 751.4,533.3 698.3,484.8 654,684.7 614.2,557.8 616.5,477 724.4,409.1 553.2,506.8 796.7,584.4 603.8,487.4 599.8,573.8 628,643.2 543.5,524.5 674.8,444.6 562,551.6 680.1,414.9 614.8,367.8 661.6,532.3 537.8,432.8 613.8,528.3 567.4,633.2 587.1,502.6 610.5,481.2 723.1,549.2 584.1,406.6 676,442.3 537,567.3 678.3,407.3 694.4,615.3 720.8,577.9 625.1,502.6 690.4,498.1 556.9,504.2 568.4,531.1 699.6,537.5 601,563.8 629,568.2 572.6,552.6 666.1,552.9 591.8,526.3 588.7,376.5 599.9,630.6 675,415.6 577.1,424.4 599,469.4 653.5,369.9 590,546.5 626,381 600.5,560 543.7,540 710.5,518.6 617.1,360.7 683.5,397.4 513.6,475.8 467,477.6 588.1,505.4 545,426 653.2,576.1 621.5,414.6 616.6,519.4 562,469.3 537.8,560 555.5,664.4 625.7,568.1 676.8,413.3 623.8,524.7 571.6,579.1 687.8,611.3 626.7,389.5 629.1,480.3 585.9,428.6 618,633.2 563.5,682 701.6,475.5 608.2,399.9 606.7,499.2 579.8,504.1 602.9,640.3 740.8,490.3 582.9,494.8 605,416.4 675.9,533.1 638,468.7 577.6,474.2 677.3,633.2 621.5,569.2 648.8,500.3 542.1,526.6 550.4,524 720.9,585 661.3,456.8 605.2,615.2 772.5,507.9 622.7,549.2 651,582 631.5,493.3 713.6,547 620,438.2 614,520.5 515.7,509.5 553.8,546.5 824.7,447.8 713.1,585.6 602.8,396 562.6,429.5 527.4,454.2 643.6,447 651.5,522.5 594.4,494.4 572.7,453.9 667.3,567.8 576.3,570.3 700.6,523 637.1,632.3 501,663.5 560.7,420.8 655.9,434.4 777.7,618.3 630.4,588.1 665.1,437.5 639.8,360.4 637.3,503.9 650,529.6 656.6,589.2 622.1,437.4 550.9,496.5 495.4,345 604.6,372.1 714.2,519.6 692.5,577.4 563,497.7 685.3,497.4 734.2,576.5 606.3,420.2 409,505.2 659.1,458.5 553.5,700 685.9,511.9 598.5,449.9 679.6,633 663.6,464.7 644.5,504.5 678.8,546.1 666.9,520.8 662.7,387.2 720.7,433.9 691.1,402.7 682,382.4 672.3,458.6 551.3,570.9 600.4,443.2 548.4,572.8 686.8,519.6 599.5,546.7 589.3,445.7 648,447.6 683.5,628.3 663.2,492.8 565.1,412.2 666.9,521.3 608,545.7 710.9,448.8 591.8,514.2 669.7,554.2 615.1,578.9 651,523.5 734.6,550.9 744.6,487.1 690.3,485.7 539,516.1 557.3,426.4 579.7,536.3 547.3,507.3 637.5,372.7 691,410.3 671.4,497.4 591.9,466.8 820,535.3 727.5,554.4 585.2,482.8 582.3,481.8 600.7,386.5 637.3,373.5 721.5,465 607,284 516,416.6 578.3,418.4 603.7,395.6 573.4,464.9 654.4,541 659.5,554.1 623,392.3 546.9,578.9 703.5,635.3 611.6,561 612.3,464.4 607.3,493.8 699.9,555 596.4,524.3 627,433.8 683.8,448 665.3,422.1 582.6,478 633.7,419.7 598.2,544.8 714.3,510.9 637.9,505.2 595.3,616.6 743.6,429.2 697.6,483.9 613.7,380.8 651,412.2 592.4,506.3 600.6,414.4 672.8,494.1 590,388.1 707.2,422.6 596,405.9 641.8,572.2 569.8,460.1 548.6,555.1 539.3,570.6 621.6,540.6 661.7,442.4 613.1,608.6 695.4,626.8 549.6,449.7 598.3,592.4 602.6,512.9 653.4,481.2 591.8,485.8 657.5,557.9 585.4,481.2 563.5,488.4 690,491.1 769,574.3 649.5,532.9 592.1,516.4 691.5,430.8 787,594 693.9,621.7 638.8,654.2 696.1,631.9 657.2,509.5 622.4,433 731.6,487.1 593.9,372.8 644.7,383.2 631.3,383.4 721.6,497.8 637.1,469.3 679.5,502.8 641.1,568.4 604,462.9 710.5,428.7 522.4,511 555.3,437.7 609.6,496.5 689.1,621.3 676.2,472 586.2,456.5 554.7,578.6 727.5,503.5 556.2,534.2 559.8,401.4 690.1,637.9 658.9,415.3 566.1,492.5 695.3,511 615.4,547.5 520.1,370.9 636.8,545.2 514.5,476.8 667.1,448.1 650.3,541.4 604.4,466.1 538.5,473.6 652.2,460 711.4,449.3 711.4,527.5 712.5,426.6 673.2,621.7 640.1,412.1 532.4,507.9 690.7,485.9 664.5,434.2 640.3,580.3 569.5,441.8 599.2,596.5 649.6,375.8 630,480.2 539.9,457.6 694.8,466.4 539,469.5 602.1,506 612.4,406.1 686.8,616.6 702.4,556.8 620.3,459.1 658,512.5 593.8,525.9 678,437.8 674.8,521 671.2,526.1 789.4,413.7 707.2,549.2 631.5,500.1 654.1,489.6 629.8,560.5 584.3,504.9 581.6,405.5 751,481.8 613,497.2 521,492.8 617.1,533.5 559.6,573.8 630,511 731.8,532.7 640.2,508.3 595.5,411.6 675.6,612.2 576.9,430.2 524.3,560.4 577.2,509.7 623,406.7 624.7,476.7 586.4,508 600.5,529.4 599.5,410.3 702.1,492.1 728.4,605.6 589.2,448.5 700.5,417.4 504.3,444.5 660.2,498.3 714.8,516 728.8,571.4 600.4,440.6 715.2,400.1 624.1,465.5 667.2,366.2 708.3,548 589.3,488.9 653.2,474 658.4,583.3 570.7,473.6 646.6,473.7 618.3,499.4 723.5,531.4 534.7,538.8 751.6,303 616.8,477.6 710.8,567.1 554.1,535.9 576.9,494.2 582.8,494.4 612.7,471.1 624.3,524 640,436.1 779.4,422 650.4,434.4 586.6,508.4 603.2,511.3 655.3,445.6 653.6,450.6 618.4,480.3 725.3,403 647.7,498.7 689.4,443.3 573.1,448.3 586.3,444.1 519,607 561.8,510.5 578.6,479.7 613.1,504.1 535.3,464.6 581.8,483.2 597.2,545.7 666.8,389.4 770.3,464 568.2,481.5 522.8,533 594.9,495.6 677.3,500.4 667.6,330.6 587.5,408.7 706,385.2 715.2,498.7 663.4,374.8 615.7,518.5 670.8,454.9 696,472.8 676.2,389.2 582.8,392.1 616.2,593.6 658.8,367.1 697.3,456.9 619.2,432.5 512.9,452.2 698.1,533.3 591.4,429.8 631.8,477.7 514.7,459.2 734.4,546.8 571.7,509.5 726,430.6 541.3,470.6 708.4,593.6 581.2,400.6 625.6,408.7 610,532.4 715.3,535.7 566.5,541.2 634.9,507.6 728.6,410.6 665,416.3 533.5,570.9 593.4,529.6 544.2,645.3 641.4,555.4 542.8,493.5 634.2,457.1 720.9,520.6 780.1,566.4 528.2,543.6 532.8,506.8 543.3,416.8 604.5,482.8 693.8,444.3 630.5,524 591.6,404.3 529,653.5 538.9,537.8 621.2,557.2 800.5,641.2 548.2,632.8 725.5,599.8 740.4,476.5 665.1,476.3 643.4,496.9 745.8,486.9 710.6,486.2 730.6,573.8 620.4,487.7 554.1,590.9 561.8,549.4 599.1,572.2 620.2,484.9 620.8,438.9 626.8,479.8 585,497.3 725.4,411.4 605.1,474.5 632.9,638.5 543.9,496.5 513,655.7 542.5,715.3 578.5,534.6 685.6,421.1 626.3,655.9 634.4,548.9 685.9,403.4 669.4,658.8 613.4,484.1 519,554.4 651.6,600.4 674.8,529.5 521,475.3 614.1,379.4 605.8,520.7 607.4,535 638.6,457.5 557.3,611.1 660.1,506.9 547,320 694.1,505.5 559.5,490 644.3,471.2 661.3,485.4 675.9,397.2 684.3,568.1 781,560 617.3,545.2 688.7,589.5 609.6,520 597.4,508.5 741.3,536.1 672.6,349.9 720,409 682.1,470.9 518.9,489.1 637.9,614.6 532.6,447.1 651.4,427 594.7,539.3 695.1,415.5 590,594.6 653.7,491.4 566.3,554.4 612.4,507.7 630.8,621.4 634.4,623.1 516.2,497.7 603.3,559.8 596.2,442.7 593.3,569 720.6,440.2 615.9,545 546.9,567.8 628.5,478.9 563.6,483 662,479.8 617.9,482.2 570.8,524.8 671.4,518.1 749.4,494.6 576.9,503.1 656.8,539.7 648.9,493.1 672.1,488.6 560.4,396 624.7,499.2 555.1,532.2 679.1,484.1 650,484.2 618.3,470 710.6,610.6 592.4,465 682.2,581.2 666,361.6 732,500.8 554.4,546.7 638.6,559.9 660.9,481 717.3,465.2 623.8,539.6 618.4,539.8 595.3,424.5 694.8,524.4 643.8,552.1 628,544.6 547.9,603.8 700.3,399.5 666.4,525.4 648.3,586.4 648.9,496.6 619.2,513.6 576.1,617.6 653,596.5 679.9,422.1 541.4,417.2 568,525.5 646.6,437.5 621.8,651.2 534.8,493.5 740.5,481.2 455.8,574 572.2,495.4 733.5,466.9 645.4,479.8 600,356.1 561.1,597.2 633.8,450.7 652.8,525.2 647.7,599 699.4,584.8 564.1,552.5 689.3,370.5 603.7,538.4 576.9,536.8 644,493 740.4,416.3 649.6,502.1 562.9,625.7 663.6,567.1 546.6,543.7 662.3,580.3 640,514.9 621,596.2 500,318 638.4,612.1 626.9,492 690.7,474.5 741.4,480.8 679.9,520 720.1,471.2 706.2,355.4 596.4,366.3 592,358.8 727.4,498.1 648.8,453.2 622.8,524.9 615.2,364 643,467.1 649.6,485.5 647.5,530.8 662.4,468.3 585.3,700 613.9,483.1 602,514.9 655.4,409.5 704.5,507.1 695.3,643.8 683.2,412.3 679.4,522.5 683,315 561.1,542.6 623.1,577.1 647.5,412.5 622,385.7 668.4,511.2 610.3,449.6 595.4,453 684.8,377.4 689.9,554.6 625.7,534.1 601.7,483.7 638.2,447.3 693.5,559 635.7,490.3 720.7,389.7 762.5,335 523.2,515.9 643.9,465.1 546,552.6 686.1,419.7 654.4,593 604,463.9 579.8,531 632.4,408.9 651.8,570.7 629.5,409.3 685.4,566 631.8,556.5 660.7,451.2 566.6,451.7 584.8,495.5 635,489.3 668.7,571.2 666.5,593.9 585.1,462.5 614.5,515.6 597.8,443.1 623.8,477.6 605.4,630.3 658.9,523.3 608.9,467.9 701.5,487.7 612.5,434.1 596.5,542.2 697.1,449.9 602.9,550 612.4,433.9 608.5,525.5 570.4,636.2 676.8,393.6 553.1,465.1 569.2,445.8 621.9,503.3 560.6,570 655.7,514.9 551.1,508.2 731.5,637.6 584.9,372.9 719.7,489.5 548.4,531.5 649.3,446.5 724.7,415 686.6,379 655.7,522 652.5,532.6 626,463 596,481.9 633.1,430.5 674.3,496.6 576.1,418.3"/>
<polyline id="pr" points="772.1,782.2 599.9,710.5 563.4,757 708.5,687.2 534.3,743.2 659,732 631,752.4 656,770.4 624.5,773.2 607.4,717.7 538.2,753.2 589.5,739.3 708,781.3 635.2,760.2 663.3,765.4 710.6,771.5 495.3,748.7 729,735.7 755.2,773.7 548.7,724 690.9,712.2 556.8,779.9 576.1,838.4 621.8,697.7 609.6,756 566.2,709.4 617.9,743.1 607.8,755 664.1,731.1 726.3,793.5 716.8,695.2 864.3,757.3 584.3,762 636.8,773.8 448.5,750 552.4,720.7 578.8,755.7 605.7,763.3 523.5,800 618.3,722.5 616.7,748.1 654,760.6 560.2,733.8 539.5,762.3 763.4,795.5 660.7,713.4 640.6,743.7 554.1,785.4 501.6,743.9 635.9,718.5 719.7,760.5 575.7,729.3 532.5,714.1 632.9,725.4 753.1,797.5 649.1,703.1 623.5,717.6 686.2,743.2 725.4,765.6 598.2,764.4 649.7,770.7 619.6,782.7 734.9,786.2 517.3,780.6 576.9,699.8 711.4,736.8 522.4,742.1 624.7,758.5 556.3,695.9 706.8,738.1 880.1,758 668.2,766.2 632.9,765.5 569.2,717 679.7,789.3 596.9,710.4 615.9,700.5 511.5,763.2 588.1,704 586,781.7 665.4,732.2 553,778.4 567.4,702.7 517.4,767.7 583.1,771.6 672.8,720.1 686.7,784.6 761,752.9 554,708.5 675.3,714.9 547.3,780.8 685.6,767.2 631,760.3 598.3,710.6 643.8,788.8 566.2,765.8 611.6,743.4 692.2,773.2 619,744.7 654.2,747.8 655.4,757 723.4,750.6 666.1,783.3 699.7,725.4 606.6,741.5 663.9,768.2 596.7,727.9 603.7,762.7 897.2,768.7 592,730.6 660.6,790.5 584.9,802 737.4,786.3 633.5,706.5 708.6,743.5 611.1,759.9 710.6,749.4 668.4,770.7 654.6,742.2 649.6,719.5 628.9,760.3 730.4,706.6 661.8,692 586.7,737.4 425.1,743.8 850.4,733 677.8,741.6 598.8,751.8 527.4,749.4 638.8,733.1 717.3,744.9 601.5,747.1 601.3,728.3 527.9,774.5 539.8,731.5 556.1,772.4 599.1,799.8 731.2,753.8 629,735.9 604.3,721.7 634.3,764.3 630.3,702.8 762.3,758.4 601.9,778.5 588.8,789.3 577.6,719.6 684.1,743.8 550.2,812 712.2,738.3 737.9,751.9 525.3,781.7 541.5,848.8 562.4,794.9 480.5,738 693.2,776.8 681.1,726.8 605.3,761.2 456.4,785.5 684.7,797.4 511.9,783.9 690.1,708.3 570.7,761.4 685.8,741.9 825,764.5 547,791.9 566.8,747.8 671.4,735.4 451.9,786.4 691.6,701.2 697.1,744.1 619.3,744.2 567.5,778.5 542.2,789.6 745.6,705 723.6,725.8 617.5,739.5 712.3,712 646.5,784.1 567.9,728.8 678.9,754.8 600.5,713.7 660,723.6 659.4,795.6 732,718.4 718.3,783.5 747.7,743.2 570,759.3 606.2,763.6 576.9,756.4 501.8,731.4 679.1,828.8 700.4,747.6 672.6,706.3 550.8,719.4 511.6,831.4 593.4,774 670.8,761.6 685.3,726.4 479,721.8 688,712.2 511.9,741 636.3,698.7 465.4,753.9 621.1,748.2 708.8,728.2 560.5,716.2 700,803.4 761.6,736.3 716.8,729.7 784.9,766 718,801.8 649.6,783.3 553.5,758.3 595.1,711.9 683.1,745.8 460.1,763.4 571.9,704.4 637.8,781.3 660.2,734.1 587,784.3 630.6,784.7 686.8,806.2 660.3,775 739.1,724.6 505.3,743.6 582.8,709.4 825.5,748.6 688.9,742 584.7,711.5 703.5,635.3 913,635.3 793,658.8 533.3,696.4 716.3,750.8 582.2,759.2 583.4,742.1 706.3,742.5 658.8,703.5 538.3,748.1 602.2,718.8 632.2,757.2 602.4,699.6 834.3,787.8 662.2,702.9 632.9,787.7 600.7,764.8 535,716.8 535.9,701 543.3,787 581.8,739 733.6,835.6 426.7,746.9 690.8,766.3 543.5,800.6 708.8,745 620.1,695.3 525.9,771.7 562.1,769.2 520.2,752.9 477.1,715.7 628.3,692.3 558.9,739 675.9,688 576.9,770 754.5,738.3 713.2,741.1 527,724.9 655.6,748.5 588.7,762.8 710.3,736.4 533.5,790.4 659.6,757.3 621.3,735.7 671.8,766 603.8,770.9 767.3,713.7 738.2,797.8 601,768.3 585.3,769 642.7,816 480.8,768.5 620.4,760.5 769.9,750.3 856.5,848 1078,764.3 1223.7,763.6 574.9,712.1 593.9,755.7 531.4,717.5 745.2,736.6 706,788.6 563.8,783.2 504,738.5 736.8,753.7 610.3,817.1 614.1,809.6 620.6,731.8 697.2,698.7 717.8,748.1 623.6,737.9 655.5,694.2 685.4,768.5 584.7,726.4 503.6,741.2 721.8,742 739.2,742.1 535.9,773.6 653.2,750 661.6,796.7 610.8,756 519.9,748.6 639.8,805.2 708.9,795.2 689.6,713.1 647.2,788.8 575.5,772.6 725.1,755.1 664.6,732.9 745.5,751.5 731.8,833.2 612.7,802.1 603.4,755 719.8,757.9 692.1,749.3 643,765.7 530.9,727.9 766.2,783.8 600.7,804.6 524.2,746.5 737.1,735.2 614.3,718.3 704.7,750.6 714.5,729.8 678.6,729.9 733,815 738.8,793.6 534.4,778.6 591,715 636.6,806.5 631,786.1 693.6,744.3 818.7,775.1 676.8,795.6 582.3,745.7 493.3,768.7 526.8,761.9 661.6,745.8 546.8,720.2 478.8,651.3 457.5,776.6 756.8,703.1 705.9,695 660.9,762.7 660.4,756.5 642.4,728.2 689.7,814.6 642.1,753.8 703.8,770.9 601,742.4 506.7,730.2 596.2,741.5 695.7,731.9 591.5,778.4 599.6,731.1 564.2,776.7 818.4,773.5 591.9,741.8 688.7,748.7 465.1,713.9 536,791.4 671.6,749.1 612,743.5 511.3,776.7 742.1,708.7 552.7,792.2 662.3,803.6 526.1,718.7 688.2,825.5 602.8,743.9 647,742.5 518.8,749 563.3,761.6 636.4,747.5 713.6,803.3 729.6,774 619.6,765 585.9,677.8 754,795.1 586.9,719.6 627.5,756.1 501.2,733 679.4,807.3 571.7,782 511.9,747.7 581.3,737.8 725.2,687.9 640.9,745.7 661,831.8 419,709.7 691.4,745.4 668.7,743 829,748.1 724,696.3 598.4,794.1 635,727.2 620.1,786.6 559.4,750.1 629.1,745.1 703.8,800.7 746.4,761.1 631.6,786.7 562.1,731.8 453.8,724.5 630.6,744.9 560.3,725.8 752.9,722.9 649.9,695 683.2,734.4 711.5,722.7 492.6,765.4 611.8,745 944.6,758 763.2,760.6 745.4,777.4 615.5,782.8 696,683 668,810.5 647.1,781.2 724,823.3 574.9,753.4 701.8,792 597.7,729.8 601.6,732.2 617.1,784.1 555.8,695.4 574.1,720.1 715.2,791.2 703.5,728.3 717.8,765.4 520,785.7 490.9,752.1 600.1,770.3 647.1,788 672.7,758.3 659.8,765.3 541.2,764.9 716.4,798 625.3,785.7 579.2,778.3 520.7,732.7 744.7,777.5 635.7,775.8 674.4,768.5 695.6,752.3 512,782.1 649,710.9 655.4,705.7 595.1,759.9 510.9,737.8 598.7,681.9 704.8,766.3 708.6,696.5 623.1,786.2 531.6,694.4 680.9,745.7 645.4,804 610.3,747.7 670.2,767.2 610.2,739.2 669.8,749.1 598.1,742.3 761.3,715.2 738.5,714.9 607.6,680.4 717.3,793.6 645.6,778.8 593.5,713.7 623.2,790.1 600.4,724.2 774.6,715 659,775.8 679.7,723 734.5,825.9 756.7,701.2 647.4,790.7 708.3,715.7 534.5,729 633.9,756.3 591.2,818.8 585.4,713.6 585.6,742 719.1,793.6 669.6,755.9 721.5,737.7 724.7,806 705.9,724.4 628,764.5 704.3,753.4 631.9,750.7 632.4,764.4 625.1,769.8 662.5,694.5 751.9,741.7 664.7,723.9 685.9,731.3 694.9,777.9 589.1,800.8 538.6,745.2 632.2,747.1 704.9,745.8 616.5,756.7 676.3,746.6 606.6,798.3 706.6,805.6 920.3,751.8 651.9,801.1 743.2,713.3 747.8,720.4 694.6,783.7 640.8,744 635.9,783.5 772.7,743.4 573.8,785.8 735.2,782.2 680.2,699.7 731.3,767.5 712.8,698.7 752,726.4 647.3,755.2 667.6,715.4 705.5,798.2 725.5,732.2 586.6,700.3 684.3,824.5 674.8,796.1 579.2,743.6 581.8,756.6 559.9,718.3 659.3,718.4 623.5,774.7 529.6,749.7 699.8,781.5 670.1,748.6 545.9,770.7 633.8,740.2 853.5,730.4 587,803.5 582.3,756.5 520,732.7 649.3,745.5 434,750.2 576,746.9 677.7,745.7 544.2,756.4 661.4,749.2 611.4,807.2 597.5,709.9 650.5,724.2 564.7,741.3 615.4,738.2 671.1,784.5 687.6,699.9 569.2,830.8 755.5,766.8 542.1,740.7 618.7,684.7 507.8,767.3 751.2,712.1 643.7,746.6 642.9,780.6 688.4,734.1 508.8,712.8 733.5,717 815.3,684.7 725.8,757.7 756.4,684.8 721.2,779.4 631.7,772.7 670.8,734.8 602.6,698.6 568.6,771 454.2,796.3 540.5,706.1 495.4,741.2 561.3,739.2 595.5,695 470.8,745.7 524.4,783.8 522.6,704.1 688.8,771.1 530.3,799.4 572.8,757.9 694.5,803.1 646.5,793.6 614.6,774.6 561.1,794.3 681.8,742 602.5,725.9 559.1,781.3 642.4,755.7 683.2,726.1 706.2,762 659.2,733.5 522.9,799.5 605.2,764.3 671.3,787.9 671.2,714 624.5,718.6 577.2,803.7 697.8,754.8 616.1,763.8 752.6,698.6 503,784.7 1010.8,763.6 762.4,750.6 659.4,690.2 726.9,787.9 566.7,735.2 602.7,738.7 575.5,749.5 620,702.7 631.7,736.8 607.2,809.1 540.8,727 592.8,681.6 506.3,743.1 639.5,792.4 691.1,731.9 552.9,763.9 557.1,803.5 655,750.7 666.1,764.6 578.2,826.3 532.7,730.8 473.1,758 760.6,742.8 581.6,754.1 640.5,750.6 556.4,769.2 678.4,736.9 506.2,713.7 721.4,693.6 737,788.1 505.7,737.6 672.8,682.9 746.5,728.2 713.6,776.8 602.2,698.6 532.7,788.3 613.7,754.9 638.5,713 743.1,733.1 823.6,747.7 578.5,761.5 440.8,764.1 491.7,748.2 535.4,798.5 664.3,728.7 589.2,778 534.3,762.8 793.8,764.8 758.8,780.9 645.3,782.2 678.4,784.6 551.9,726.6 728.9,760.7 585.8,796.3 648.8,730.5 653.3,687.6 593.7,731.9 638.5,778.9 698.7,743 686.6,747.5 603.9,754.5 500.1,753.6 487.7,759.1 746.9,732.7 706.3,726.6 628.5,680.8 523.6,751 609.3,714.5 614.3,772.7 749.2,738.7 610.1,764.4 765.9,707.2 713.7,771.6 558.3,748 592.8,745.5 668,711 560.1,697.1 625.9,786.1 572.9,707.7 726.1,796.5 647.2,761.3 676.1,774 727.2,776 691,757.6 670.3,753 544.9,737.1 672.2,736.1 618.5,764.6 562.3,765.4 653.7,782 551.6,800.3 728.1,734.5 692.9,704 603.8,674 628.6,760.7 653.7,792.4 531,732.7 604.4,798.6 687.8,783.3 764.8,749.6 681,767.1 598.7,805.7 715.1,716.8 589.1,806.5 554.3,738.6 664.6,806.2 635,744.1 618.2,697.8 525.5,716 630.2,722.1 545.6,788.8 568.1,703.7 594.3,767.1 683.1,751.7 642.1,731.7 679.9,727.9 725.5,702.4 747.1,790.7 603.5,724.9 545,753.5 538.2,738.8 456.1,720.4 634.7,758.7 578.6,759.9 499.2,749.3 693.6,778.4 513.8,722.4 607.2,829.9 591.6,748.6 635.2,760.1 624.3,720.2 588.2,752.9 507.3,745.8 609.3,698.8 653,805.2 814,807 529.6,698.4 585,829.4 626.5,743.5 536.6,766.5 590.9,779.3 713.9,811.9 603.2,686 662.8,749.8 668.5,740.8 709.9,756.7 773.2,774.9 513.4,756.4 598.2,738 679.4,799.9 694.9,774.7 722.2,732.8 582.2,737.1 570.2,769.6 664.6,725.1 689.5,726 649.7,686.3 538.3,712.8 622.6,804.6 657.4,768.6 511,703.4 640.8,785.5 576.6,700.6 591.6,791.7 617.7,752.2 511.8,736.8 595.7,773 566.3,753.4 533.2,723.9 605.4,698.5 535.8,722.4 626.5,713.1 624,777.9 504.1,705.8 427.3,724.7 722,686 418.4,578.4 421.8,707 452,716.5 625.8,744.7 735.3,768.3 548.2,717.8 932.7,737.1 655.8,747.5 565.2,750 576.9,740.1 597.2,774.7 661.7,714.8 645.1,733.2 653.1,766.6 728.3,760.9 617.8,740.3 583.9,684.7 571.9,725.5 595.5,760.5 570.2,770.4 690.2,763.8 582.2,715.2 680.6,715.7 660.2,766.3 567.5,790.8 746.4,748.3 671.5,789.8 671.7,763.7 618.8,783.4 594.1,760.6 709.3,800.6 590.1,716.8 580.4,742.5 584.1,759.9 692.9,715.2 570.1,831.8 581.2,704.2 565.2,752.5 643.9,758.2 535,796 681.7,731.8 737,728.4 612.4,735.3 609,799 715.3,646 649.1,716.8 642.8,736.1 461.4,726.3 669.2,770.4 685.1,719.8 546.1,727 542.5,759.5 752.1,774.5 855.3,744 552,787.8 566.5,713.4 562.2,799.2 680.3,762.2 605.7,741.4 531.7,796.5 664.4,765.5 488,683.5 657.1,756 593.8,770.8 614.7,769.3 747.8,776.3 691.5,770.8 690.8,731.2 703.5,741.1 497.5,751.8 617.6,745.2 715.4,737.5 570.8,695.4 548.4,726.5 571.2,722.1 640,759.5 670.5,747 682.6,736.6 766.7,726.6 596.3,713.3 569.9,758.5 506,769.2 547.8,769.8 695.4,805.6 647.2,757.5 514.9,758 618,745.2 584,738.5 657.1,774.2 774.5,757.9 566.7,812.7 516.6,757 619.8,828.8 635.6,784.6 551,749.3 694.2,728.6 678.3,704.4 609.1,766.9 458.7,750.7 631.7,755.1 547.2,760.6 579.1,711.3 645.4,740.4 562.2,728.6 757.3,708.7 682.1,802.3 635.2,796.7 536.8,765.6 744.7,696.4 441.3,757.6 716.3,760.2 525.4,742.6 745,728.7 587.9,775.9 797.8,763.2 693.4,768.6 457,828 422.5,866.6 472.4,845.4 452.4,811 824.5,769.8 426,776 523.9,748.4 729,709.2 525.8,762.5 720.6,728.3 700.8,755.7 724.3,694.7 595.7,753.9 530,725.5 828.1,752.4 689.8,706.9 591.8,754.7 621.2,755.5 566.8,722.2 675.5,740.4 599.9,805.1 464.7,760.6 700.9,720.3 663.7,750.6 620.5,726.9 651.2,761.6 638.8,783.4 780,640 711.4,736 672.1,697 636.9,681.3 691,778.5 699.5,705.1 823.1,726.5 625.3,758.5 1093,724 711.3,775.8 672.7,695 696.4,750.3 617.3,782.6 649.2,824.1 677.7,786.6 709.9,757.8 586.8,697.2 622.6,696.5 680.9,735.3 678.9,712.3 648.5,730.4 676,689.4 658.4,743.1 652.4,717.1 495.2,842.4 629.3,731.6 729.8,717.9 674.2,710.8 750.7,721.6 589.3,683.2 672.7,754.8 640.5,808.7 655.9,779.7 901,760 562.1,750.2 560.2,779 650,779.8 766.9,784 625.6,717.2 590.1,710 613.4,710.2 620.7,726.7 695,709.5 499.1,704.2 562.1,790 549.8,770.4 546.8,787.6 708.6,752.4 735.8,697.6 614.6,751.3 660.6,723 654.9,752.6 474.5,727.8 553.1,753.1 692.3,753.1 625.1,701.7 694.1,768.4 599.9,797.9 486.1,742 597.4,738.5 607.6,710.3 568.3,701.7 680.1,730.9 663.6,727.7 758,767.2 695.4,745 643.5,709.7 690.4,766.5 629.7,755.8 640,736.6 621.7,698.3 583,707.7 666.1,795.9 770.8,788.2 591.5,750.4 700.2,782.1 723.7,755.7 579,743.8 607.5,828.3 705.3,691.4 550.4,748.9 695.1,755.5 691.8,785.3 601.3,746.2 561.5,725.2 566.6,720.2 715.5,694.2 706.3,755.8 814.9,720.3 698.6,741.6 687.5,785.8 617.3,781.7 611.6,774.9 584.9,720.9 653.2,751 434,745.6 691.2,740.4 694.6,786.6 561.2,716.4 534.3,782.1 584.3,773.7 643.9,726 604.5,758.1 535.7,781 577.8,726.3 600.5,714.5 604.1,711.5 615,690.6 577.7,726.6 518.7,755.7 589.4,788.9 507.3,749.3 614.4,793.6 717.6,781.6 557.7,739.5 698.6,710.6 726.9,800 649.5,727 701.2,770.8 678.4,770.7 517.3,802.6 634.7,697.4 576.4,764.9 742,762.1 627.1,694.8 706.3,765.3 726.5,736.7 538.4,746.6 720.8,746.4 719.9,735.3 652.9,718.6 535.6,752.1 730.4,788.5 795,722.3 610.8,775.3 746.1,739.1 616.4,788.8 650.4,747.9 585.5,740.6 698.3,745.3 683.3,761.9 1208.6,743 565,733.3 555.3,737.9 521.8,788.1 609.2,740.6 644.9,809.1 558.2,757.2 726.4,780.5 534.4,728.1 654.1,746.2 626,768.5 495.7,825.6 557.7,756.4 654.5,764.4 659.7,693.3 694.5,701.5 543,838.8 570.1,764.2 583.1,686.8 653.7,764.6 521.6,737.9 621.6,761.9 504.9,724.1 569.3,795.9 575.5,789.7 581.6,830.6 591.1,784 794.5,734.4 799.9,748.9 528.5,739.5 746,774.6 777.8,757.3 596.5,751 512.1,798.3 626.6,713.9 579.2,711.6 617,751.2 652.5,697.4 615.2,831.6 598.9,798.8 608.1,706.8 672.5,694.9 511.9,697 549.3,754.2 761.8,707.8 597.7,743.6 548.7,758.2 754.9,755.5 591.4,795.3 622.1,762.3 673.9,761.2 594,754.3 705.4,778.3 898.8,762.4 679.9,746.6 562.9,765.1 660.2,686 605.9,680.4 640.8,725.2 657.1,804.1 627.8,734.3 549.3,785.1 663.9,713.4 526.6,742.6 683.9,761.2 743.2,780.1 509.5,786.3 697.7,770.8 566.6,754.6 574.2,760.8 508.9,693.2 610,767.7 581.4,736.6 670.4,809.1 730.4,701.1 498.6,732.7 649.7,734.6 742.4,802.3 633,736.9 555.2,768.5 526.1,739.6 669.8,780.5 775.5,742.7 616.9,742.1 627.1,730.4 699.2,751.6 697,750 720.4,708.7 686.7,764.4 492.9,746.3 774.9,726.3 650.2,735.8 670.1,707.6 706.4,768.4 690.9,754.8 643.2,780.6 659.8,728.4 552.7,708.9 668.6,720.8 684.7,754.8 622.7,776.7 641,746.2 596.3,716.4 703.4,720.3 532.8,799.4 505.5,744.9 520.6,705.7 479,650.6 590.3,805 508.1,750.7 537.2,678.6 570.5,724.5 827.4,819.4 903.5,691.8 544.7,796.5 656.3,691.5 521.8,721.3 682.6,768.5 527.9,772.8 425.6,753.2 607.5,764 608,759.9 577.5,807.2 557.8,686.2 707.5,802.3 562.1,712.3 735.2,690.4 650.9,769 627.1,697.2 544.3,730.8 751.1,776.9 764,770.5 536.8,742.2 587.1,735.1 515.3,732.3 495.5,735.6 558.8,754.9 522,749.4 650.4,782.9 619.4,734.8 676.3,752.7 675,708.1 626.9,760.5 675.5,752.2 522.4,760.3 767.3,755.2 557.6,711.2 766.3,791.2 770.6,729 659.1,742.6 669,746 720.7,752.8 436,782 689.7,786.7 562.5,775 659.9,799.4 581.7,738.4 627.4,801.6 593.7,746.9 610.7,683.6 610.8,742.1 583.1,791.8 500.3,735.6 578.3,758.6 600.8,763 582.5,719 713.1,764.8 561.7,792 519.1,735.4 581,762.5 628.1,753 527.2,736.6 571.2,788.8 653.9,737.8 661.4,767.1 831.2,751.3 450.4,766.2 619.5,723.1 705.3,736.7 747,730.6 511.9,720 596.9,775.3 616.8,752.7 595.4,722.8 685.6,702.4 631.2,730.1 588.9,752.9 582.2,751.2 750.4,711.8 573.2,781.7 614,745.5 623,777.8 721.6,695.3 663.6,816.8 667.2,763.6 616.8,755 562.4,707.9 728.6,770.6 519.6,771.6 525.2,721.4 772.8,754.3 576.1,795.2 554.6,769.6 544.9,768 700.4,780.2 582.1,729.3 735.8,748.8 604.2,717 760.1,719.2 692.5,770 572.1,691.9 517.1,758.6 593,767.8 629.9,788.9 507.3,724.5 706.3,801.2 718.2,768 684.6,681.2 720.3,730.7 572.5,733.5 561.4,718.7 631.4,777.9 670.9,715.6 425.4,745.7 664.5,687.9 627.3,770 723.4,743.1 656.1,764 606.1,772.4 558.6,760.9 658.5,746.1 607.1,723.9 414.7,729.4 610.4,743.3 752.3,790.6 656.2,739.6 722.5,751.2 640.5,790.3 741.2,711 632.1,785 706.6,748.6 662.1,741.7 562.8,736 622.3,768.3 630.7,722 584.1,673.7 550,736 574.2,760.2 704.6,687.4 611.9,774.4 590.2,740.7 692.3,753.1 550.2,786.6 630.9,751.9 552.2,753.3 700.8,699.8 519.7,749 694.5,761.4 533.1,766.1 685.1,742 869.1,761.5 766.4,705.5 538.6,768.1 673.1,785.6 745.1,762.2 596.5,706.2 671.1,736.8 691.3,751 698.7,774.3 737.4,748.1 662.5,760.5 567.9,771.3 692.2,751.3 661.7,793.7 616,724.5 590.7,755.8 568,746 751.8,720.3 712.7,765.7 758.6,714.4 623.8,751.4 719.4,768.3 689.3,790.3 550.4,704.7 617.9,719.1 513.4,730.2 552.9,707.6 718.5,792.2 639.4,682.6 562.8,771.4 650.1,695 638.5,724.4 560.9,728.5 667.7,712.3 709.9,780.1 634.2,782.3 429.4,738.9 651.9,774.2 614.9,753.6 644.5,699.8 708.2,784.2 496.9,756.6 566.9,753.8 653.7,746.5 625.3,759.3 697.2,721.6 546,765.9 589.6,774.4 737.5,704.8 634.8,713.4 621,733.2 702.4,683.2 570.6,787.8 673.9,739.9 896.6,765.8 553,701.6 774.4,741.7 557.8,760.3 669.3,678.4 529.2,725 683.6,702.7 557.4,711.8 634.9,750.5 997.3,774.4 723.3,822.9 733.6,730.6 683.3,721.8 783.2,768.3 859.7,777.8 560,728.3 590.1,731.4 488.9,758 647.5,784.5 575.3,799.3 761,728.8 735.1,765.7 593.6,736.7 627,710.6 675.3,729.2 667.2,752.6 671.6,706.2 674,785.6 616.4,754.5 668.3,723.6 649.7,827.3 615.1,700 581.1,763.9 564.8,710.7 684.6,731.3 777.5,782.5 717.9,691.3 535.4,707.3 693.4,798.9 659.9,695.5 658.2,735 485.4,706.1 652.6,733.5 693.4,784.4 534.3,707.4 706.9,736.3 432.2,689 623.5,754.6 498.3,758.8 596.5,798.3 553.5,690.3 519.7,791.9 754,834.1 606.7,760.5 706.7,724.2 532.7,785.3 685.8,754.9 648.9,717.1 719.5,695.5 526.6,836.5 620.1,784.7 705.8,731.4 693.6,728.2 740.8,712.9 644.6,775 724.4,768 638.1,691 617.1,748.8 579.3,739.9 642.6,740.3 586.3,748.6 560.2,778.3 584.3,830.9 813.4,762.3 720.1,694.8 654.2,790.5 691.6,758.5 699.6,737 494.8,733.7 653.9,739.9 692.9,749.4 590.5,830.6 674.9,737.9 549.6,741.1 726.6,725.2 484.5,780 623.5,729.8 613.9,774.1 677.5,741.5 583.1,696.5 726.5,682.3 684.3,717.9 573.1,753.5 589.5,748.7 989.7,763.6 563.1,757.7 523.5,694.1 709.6,723.5 477.4,779.8 596.8,731.1 635.6,758.6 504.1,792.5 768.6,727.1 625.2,749.7 629.1,755.6 567.5,752.9 512.5,792 638.6,791.2 681.5,772 656.5,676.1 566.3,785 660.7,767.4 645.9,734 728,774.7 631.5,698.4 834.8,821.9 523.9,732.1 629,745 557.1,736.6 635.3,761.8 745,774.1 561.3,768.8 685.1,737.9 520.3,697.4 599.3,690.4 729.2,696.4 535,735.6 620.9,776.9 669.4,818.1 623.2,734.8 723,725.6 672.8,778.6 690.4,816.6 654.5,747.5 590.2,746.5 691.5,685.3 655.5,713.8 566,742.9 560.6,743.3 615.3,735.9 645.3,746.8 536,781.3 609.4,715.4 711.4,722.4 623.8,693.7 724.5,748.2 631,824 541.7,728.2 494.7,745.4 705.2,756.7 710,742.6 738.5,743.3 511.8,702.6 629.8,692.8 462.7,740.2 616.1,702 605.5,717.2 500.5,845.2 642.9,687.9 595.6,701.7 678.7,741.3 720.1,766.8 577.7,698 567.7,775.1 516.3,752 659.2,765.4 561.1,735.1 748,733.4 603.7,765.3 636.3,770.4 676.7,804.8 652.8,713.8 644.8,782.8 640.3,753.6 583.1,739.2 750.6,703.4 447.6,759.8 653.7,798.4 639,726 542.1,790.3 583.8,757.7 706.6,803.6 649.8,729.1 587.6,745.3 603.3,816.2 611.8,746.2 624.3,735.7 528.4,726.7 621.9,735.4 516.6,765.1 663.1,696.1 614.7,707.8 623.1,782.1 599.1,717.5 558.4,746.1 667.4,765 601.7,716.3 583.5,770.4 583,810.2 632.9,703.7 529.6,762.5 699.1,702.3 493.4,720.6 859,743.8 533.3,783.3 746,769 888.9,763 649.4,759.3 461.8,776.5 653.6,700.4 642.3,805.5 778.2,765 710.6,715.9 582.9,765.8 540.4,770 579.2,715.6 661.2,778.5 663.4,698.2 628.3,739.8 608,773.7 837.4,759.8 715.5,721.6 549.2,795.5 449.4,764.9 701.6,776.9 550.5,751.1 576.1,773.1 652.8,715.8 694.5,792.8 781.8,734.9 614.2,766.3 547.8,790.7 732.2,777.4 740,712.9 764.4,746.5 561.3,722.4 582.6,736.7 684.7,730.6 708.2,722.1 508.2,759.2 494,730.2 672.5,699.8 668.1,766.6 529.8,720.1 710.2,737.4 570.2,721 661.5,712.8 617.5,785.3 578,726.5 495.2,735.5 732.4,748.8 501.8,764.9 638.6,824.4 570,754.5 487.5,782 739.1,759.4 638.3,745.3 492.9,738.4 644.2,792.5 719.1,750 537.4,700.4 469.1,752.4 562.8,692.8 831.8,738.8 672.9,716 586.2,784.6 659.5,741.8 665.2,816.3 523.1,797.5 593.3,746.4 755.2,711.7 596.6,738.6 723.1,718.1 615.3,770.5 536.1,768.4 642.3,701.1 664.1,734.5 428,737.1 585.5,736.2 635.3,723.4 541.7,809 591.9,785.9 605.9,774.6 675.2,767.7 665.7,746.9 602.6,779.5 419.7,739.4 491.9,724.1 642.9,698.5 522,782.5 764.7,781.3 619.4,702.3 618.4,746.1 494,728.3 693.9,764.1 667.8,693.9 668.2,763.7 705.8,730.1 743.4,789.1 740.5,774.2 714,626 728.1,687.4 676.1,766.3 693,776.2 609,775.5 495.9,700.7 679.1,810.7 662.5,750.1 716.9,717.7 430.9,734 646.7,754.9 571.6,763.3 584.2,757.7 595.9,767 637.8,706.5 551.4,794.7 696.5,828 537.5,723.3 593.4,718 525.7,755 587.9,739 728,804.9 544.3,740.2 607.3,799.9 665.3,697.5 649.4,730.9 596.8,758.1 640.6,774 576.6,718.1 914.1,753.2 531.2,721.8 620.1,765.5 597.3,729.5 597.6,800.7 641.8,773.4 619.4,764.5 717.5,723.5 442.2,762.5 556.2,721.7 680.2,806.5 637.7,714.4 644.5,752.1 666.6,728.5 612.9,751.6 691.7,737.4 651.1,786.4 660.8,723.6 654,729.1 699.3,732 745.7,743.3 586,782 878.8,751.5 656.3,767.9 595,768 499.1,788.1 607.5,709.2 536.2,724.8 765.6,793.5 629.7,784.8 612.1,737.5 552.7,739.2 613.3,789.3 618.9,749 641.9,720.7 694.7,783.9 672.1,747 576.4,733.2 695.9,701.7 615.3,724.5 718.1,770.8 539.1,699 665.7,769.3 594.1,758.3 826.8,733.9 713.8,759.8 752.6,706.2 526.8,793.5 712.4,773.8 586.1,789.4 641.6,779.1 596.9,732.3 613,785.3 526.3,719.6 665.2,725.5 765.3,759.6 607.8,752.1 630.1,723 715.6,767.6 760.9,731.3 623.3,765.3 565.7,718.8 672.7,732.8 706.4,738.8 514.1,719.2 669.7,739.2 699.2,770.2 528.3,759.9 495.6,743.5 564.9,772.5 735.5,776.9 615.7,753.1 691.3,732.3 656.8,742.4 594.3,762.9 630.1,740.9 669,802.2 591,750.2 629,759.8 745,746.7 522.3,728.3 531.6,757.1 587.2,692.3 665,793.1 700.4,732.7 596.8,716.7 462.2,749.5 709.8,757.1 626.1,783.7 750.2,743.7 529.5,712.5 771.5,745.5 543.5,762.6 666,699.1 700,752.4 685.3,812.7 725.2,744.3 751.8,827.6 568.3,739.9 699.2,806.3 740.9,724.3 732.6,698.1 575.4,796.1 630.3,740.2 609.9,760.2 521.7,720.2 559.4,694.6 844.3,753.2 570.4,728.1 745.2,744.9 605.9,715 797.6,664.7 967,642.6 711.4,774.4 645.6,778.1 540.3,711.7 702.3,737.7 645.4,716.6 666.1,731.4 725.4,710.7 722.3,748.8 589.8,684.4 622.1,764.9 606.7,711.2 604.3,754.8 638.1,771 550.1,746.5 778,758.3 679.8,743.5 649.8,748.1 632.2,698.4 598.9,727.7 567.6,705.8 777.5,764.6 695.6,791.9 491.4,778.5 678.8,753.8 641.3,795.9 522.8,723.4 571.6,739.6 608.5,730.1 709.4,759.3 706,656.5 667.1,761.5 622.2,714.5 734.8,764.7 696,803.5 695.8,778.1 576.2,759 533.4,735.6 738,704 579.3,778.1 676.7,752.2 549.5,788.8 577,808.5 579.4,759.6 738.3,714.6 625.9,747.5 637.6,737.7 535.3,749.9 420.6,729.4 529.6,743.2 914,787 972.4,749.6 615.3,758 610.3,749.8 604.6,773.7 647.5,789.3 660.2,776.3 639.9,780 497.8,725.2 576.1,763.6 665.4,751.9 735.5,752.6 759.9,771.6 601.7,680.9 677.6,790.3 551.2,692.3 703.3,741.4 705.2,777.3 587,749.4 469.9,673 722.1,703.6 596.6,748.9 571.6,779.1 723.6,779.8 619.6,706.2 436,796.5 700.8,726.3 517.7,766.5 441.4,762.9 552.9,799.1 564.5,782.8 768.1,774.9 596.6,806.4 622.7,731.2 603.7,802 673,702.6 565.1,711.3 711.5,716.8 709.5,724.7 632,751.1 694.3,727.7 570.9,765.5 633.4,785.7 604.8,765 602.1,770.8 616.8,706.6 510.4,756.2 561.9,720.6 616.8,750.2 694.9,750 585.8,763.6 482.5,838.8 521.3,847.8 537,854 599.4,858.8 617,853 646.5,849.4 722.4,829 749.4,844 770.6,824 713.4,826.1 628.4,711.4 604.4,784.3 545.6,784.4 677.1,680.1 602.4,737.6 571.6,739 686,708.9 588.5,780.8 515.7,768.2 686.9,803.4 597.4,807 602.5,798 669.4,797.4 606.5,794.4 776.4,770.2 629.1,746.7 899.1,779.4 604.9,758 589.5,737.3 651.8,793.2 518.6,757.2 623.6,755.5 527.8,785.8 761.5,714.9 694.8,736.3 614.5,736.1 730.3,745.9 618.9,743.3 597.5,781.8 773,753.7 599.2,754.3 638.1,796.3 629.7,740.8 662.1,723.6 645,712.3 629.7,777.9 642.5,745.5 685.5,687 734.5,840.5 669.2,730 467.6,829.4 549.3,695.7 624.7,712.3 703.9,782.5 625.7,804.9 683.4,751.1 713.6,775.2 717.2,702.2 707.1,767.5 768.3,717.9 627.6,777 503,721.9 650,748 634.9,716.7 630.3,733 686.1,715.7 642.8,788.5 632.5,780.7 561,718 611.2,746.7 543.1,745.7 640.7,797.1 612.1,726.2 671,810.4 640.1,741.6 728.6,747.2 618.6,766.2 617.3,820.8 693.3,707 665.4,755.9 584.5,793.7 519.5,798.5 659.7,742.7 505.9,713.9 458.2,766.8 1170.5,723.4 676.6,797.9 688.4,757.9 540.8,729.2 580.7,727.6 644.9,739.7 682.2,772.3 618.7,819.6 568.6,726.3 667.5,751.4 587.8,790 613.5,729.8 661.7,785 614.8,714.7 532.8,739 713.1,720.3 534.3,796.5 664.1,689.7 761.6,744 625.7,717.9 568.3,792.1 644.4,679.6 606.2,742.2 952.6,723 652.2,691.5 494.2,702.2 726.7,719.4 677.6,735.5 631.2,736.7 652.3,746.3 689.6,699.3 575.9,690.2 626.1,707 603.5,774.9 622.4,687.2 608.7,777 584.1,715.1 571.2,724 578.7,753 722.8,707.2 642.9,778.7 584.1,727.5 659.7,737 631.1,784.7 599.7,815.3 597.2,701.5 663.8,793 766.3,767.2 621.7,705.6 688.8,778.4 578.3,761.6 640.6,755.2 665,739.1 714,746 642,722.1 650.8,725.6 678.5,735.9 706.1,702.8 581.1,711.2 632.1,745.6 700.6,758.1 589.5,781.1 670.8,730.5 666.8,767.6 536.1,716.5 607.8,752.4 698.7,712.5 575.8,712.8 640.3,690.3 765.1,713.3 672.6,713.5 767.5,709.9 598,700.4 634.7,724.3 672.1,770.4 581.4,754 626,701.1 577.6,735.5 620.2,801.8 505.7,725.4 674.1,785.7 597.2,801 692.8,803.3 591,766.1 635.9,725.8 697.2,749.4 569.6,750.5 609.2,765.6 676.1,767.8 642.7,755.6 659.8,771 659.2,782.5 751.7,735 627.7,730.9 713.8,782.8 605.6,712.8 657.3,764.7 760.4,757.6 713.1,823 752.6,777.1 615.8,714.2 681.1,720.1 713.7,748.2 683.8,732.2 676.5,774.7 648.3,784.9 493.8,758.7 671.5,723.9 575,734.8 559.3,745.3 539.7,715.1 696.4,749.2 729.7,757.6 642.1,755.9 594.5,804 729.6,741.3 721.7,750.8 621.2,816.3 621.5,767.7 679.4,696.3 568.6,777.2 557,725.5 434,712.7 553.9,766.1 549.9,778.6 648.2,761.2 652.6,800.9 697.1,741 878.9,689.6 536.5,736.6 585.6,736.5 600,764.9 650.9,714 741.9,732.3 581.1,795.4 597.6,793 748.3,775.9 722.7,743.6 573.9,691.8 524.1,682.4 589.5,808.7 678.7,776.4 600.9,716.4 664.6,750.4 678.4,713.1 650.8,735.4 612.5,799 649.5,769.5 576.8,746.6 707.6,725.5 570.9,712.8 621.7,725.9 618.8,720.5 711.5,756.7 689.1,720.5 647.3,752.1 619.4,732.7 720.3,789.3 732.4,766.7 701.1,764.7 697.7,699.8 672.7,722.8 534.4,719.2 671.5,737.4 739.5,776.2 537.2,773.1 732.3,713.3 542.1,803.2 608.4,803.4 673.6,760 642.2,719.2 513.9,722.4 507.5,788 620.2,787.4 595.3,717.2 689.8,758.3 574.5,692.4 616.8,736.3 600,740.6 731.2,740.4 769.6,750.6 558.1,730.9 641.4,796.9 576.1,752.6 637.7,742.7 660.4,709.8 462.3,720.1 580.1,682 569.7,684.2 610.4,778.5 655.3,689.7 605.2,684.8 743.7,805.2 505.5,795.8 746.9,788.7 666,727.7 648.1,714.5 670.9,755.8 611.9,758.3 629.7,682.3 616.5,760.3 672.8,750.9 566.5,727.1 937.6,709.4 714.6,752.6 538.1,704 888.2,761.4 633.5,721.4 627.8,802.6 617.1,702.9 649.1,764.9 594,777 688.1,711.1 727.5,785.9 631.2,707.4 637.2,719 770.6,789.1 480.4,772.8 505.8,750.4 571.6,695.8 653.5,753.4 635.6,776.9 570.3,718.9 547.2,716.3 493.4,745.5 1135.3,715.4 646.5,711.8 699.7,758.8 820.2,721.4 603.2,745.2 522.8,723 638.6,722.1 707.9,774.8 579.2,828.9 752,733.4 740.7,782.7 525.4,781.3 702.7,779.8 703.5,767.7 544.1,750.2 621,759.7 524.7,805.1 658.1,778.5 679.5,739.4 564.1,746.9 741.6,743.7 583.6,677 743.1,729.8 712.6,746.4 642.8,799.8 621.7,732.9 1084.4,720.4 627.7,714.4 570.1,773.6 676.5,733.6 487.7,795.3 650.9,737.1 859,772.8 670.8,754.4 672.1,719 637.4,721 629,759.5 596.3,738.2 820.1,732.1 575.1,791.2 514.9,785.4 627.5,699.8 592.5,751.9 688.9,776.3 897.9,724.5 717.7,775.4 609.9,730 551.6,692.2 642.2,741.8 501.8,744.6 555.1,752.4 571,809.8 464.7,775.8 581.8,733.9 692.6,743.3 598.9,778.4 623.9,745.1 607.4,792.2 559.8,801.6 587.2,718.1 717.9,775.7 715.7,726.6 662,749.4 639.1,705 649.6,754.4 598.2,687.5 739,731 665.8,750.7 729.8,801.7 563.8,755.2 677.3,765.4 638.3,690.5 685.3,682.1 608.2,718.5 685.5,759.3 708,696.2 484.3,705.7 518.4,735 638.5,777.6 590.4,721.1 574.7,724.9 614.7,812.9 711.3,728.8 685.7,729.4 628.2,747.6 709.4,718.7 559.6,720.2 640.2,788.4 558.3,723.2 747,750.7 688.6,807 582,768.1 522.5,736.4 669.3,751.6 652,758.6 603.9,718.7 579.9,682.7 552,767.8 614.7,782.9 691.6,724.1 677.6,765.2 695.4,726.3 615.9,758.5 681,740.1 678.9,693.3 628.3,777.6 768.5,744.3 763.8,730.3 886.3,744.4 675.4,762.6 893.7,750 563.7,763.4 660,774.3 663.2,734.2 694.1,813.5 697.6,810 609.4,786.3 759.6,724.9 742.2,759.8 618.7,823.1 493.6,726.8 766.5,727.6 549.3,742 705.4,785.3 579.4,762.4 500.9,784.7 703.2,801.7 538.8,756.7 513.8,768.1 690.9,724.6 668.9,743.1 732.7,779.3 536,726 756.3,795.2 730.8,721 895.1,749.9 667.5,723.1 511.4,712.1 577.4,715.1 693.9,686.8 677.5,748.5 827,778.6 652.2,747.1 666.1,780.8 696.1,744.4 616,745.4 590.6,794.5 573.5,732.7 601.8,799.3 854.1,746.6 653.1,798.4 581.3,725.5 695.8,821.5 566.9,750.1 503.7,715.4 730.7,729.5 601.1,681.3 656.3,756.3 510.3,755.5 604.2,736.8 705.9,777.3 681.3,719.9 864.6,774.6 596.7,703.9 653.9,811.2 732.3,770.7 645.1,712.1 593.8,759 563.3,743.9 614,712.6 631.4,683 592.4,780.8 660.7,746.9 704.2,765.9 729.4,777.9 749.1,765.7 607.1,764.1 595,730 622.5,789 504.5,711.3 623.4,743.3 739.8,720.2 612.1,761.1 551.5,733.8 862.2,763.5 705,744.4 704.8,775 742.7,734.2 703.1,763.5 631.4,693.5 583.5,732.3 562.6,808.1 703.4,697.3 558.6,752.6 683,752.6 534.4,804.7 592.3,715.4 577.2,752.7 689.7,730.4 723.4,747.5 723.5,765.5 609.2,716 488.9,758.9 628.5,761.9 685.9,764.7 758.5,764.3 690.2,791.2 654.6,721.6 621,722.5 724.5,678.7 437.2,749.5 690.3,811.8 518.3,773.3 535.6,714.4 530.7,732.8 640,800.9 596.4,792.3 576.4,771 651.5,684.8 716.8,816.2 630.8,789.5 664.3,781.3 673.8,776.5 651.7,766.9 759.2,730.5 626.7,729.2 636.3,754.7 609.5,750.6 622.8,725 754.5,803.2 642.2,736 599.9,756.8 579.9,745.3 715,761.4 706.3,771.2 816.3,689.9 653.5,705.3 628.4,812.3 694.3,782 716.5,742.3 817.7,782.8 689,766.4 370.7,754.8 599.5,730.8 620.6,755.4 739.1,767.7 676.7,734.1 564.6,755.7 607.2,774.5 602.4,730.8 591.6,748.7 562.4,809.2 699.6,714.7 629.7,813.8 642.4,714.7 496,737.4 648,705.3 677,814.1 620.8,726.7 608.2,765.2 653.4,800.5 645,764.4 729,761.4 548.1,745.8 533.5,712.1 485.6,772.8 725.7,755.2 614,754.5 666.6,729.4 687.1,746.7 635.2,802.9 445.2,799.8 635.8,706.3 613.9,793.7 550.9,771.7 598.1,771.4 683,754 650.4,772.2 723.1,745 567.1,746.1 578.9,794.3 672.6,816.2 679.6,838.6 577.3,807.6 630.8,713 640.4,774.4 676.5,827 741.2,692.6 597.9,741.9 623.1,764.2 551.5,779.8 720,813.4 753,733 800,820 968,848 976.4,744.7 1171,689 528.7,746 530.3,806.5 651,757.2 613.9,720.1 551.8,809.1 680.2,783.9 631.8,778 722.4,708.2 829.3,741.6 603,726.9 703.8,764.6 687.1,799.8 568.6,737.7 863.5,693 668,703.4 507.2,780.6 527.8,778.2 552.7,739 642.3,761 657.3,722.2 585,684.9 665.8,748.6 696.4,766.8 895.4,723.2 598.8,737.7 600.9,742.3 581.6,761.3 523.5,778 694.4,769.7 579,750.7 647.2,757.3 668.7,723.1 600.6,701.4 814.5,784.8 610,730.4 647.2,692.6 694.9,785.4 699.5,696.5 680.1,772.9 668.5,747.9 744.8,710.9 603.1,756.5 676.3,762.7 671.8,720.7 630.7,793.6 629.4,726.6 673.2,791.4 531.7,745.8 495.2,740.7 871.8,809 580.4,820.8 553.3,738.7 765.3,769.2 513.8,760.5 538.5,722.8 753.9,717.8 575,731.4 461.6,701.3 649.9,745 624.9,810.1 664.3,750.2 662.5,754.7 690.4,729.1 577.6,706.7 594.1,739 730.3,698.9 543.6,720.8 707.3,827.7 425.9,722.3 677,723.1 635.7,801.4 938.3,709.9 750,770.1 669.6,713.4 593.1,754.2 686.5,803.1 714.5,711.2 621.2,751.6 662.5,694.8 625.4,760.1 726.7,730.5 576.4,785.4 623.2,743.4 730,775.2 633.3,761.1 593.4,688.8 559.8,729.3 620.4,749 639.4,805.1 560.8,768.7 729,740.1 597.9,744.8 708,716.1 590.1,715.3 549,702.2 590.6,788.2 577,757.6 688.7,720.7 711.3,715.8 526.1,732.6 687.6,783.3 733,744.5 658,711.7 526.7,747 639.6,785.8 767.8,760.4 709.3,818.6 518.4,756.5 547.7,775.7 602.7,718.9 695.3,696.5 530,701.8 643.5,722.8 604.4,741.1 518.2,739.4 675,755.1 704.3,687.3 669.4,710.2 625.4,700.9 530.5,738.7 728.4,766 718.4,790.1 646.9,748.9 633.3,741.1 663.1,752.6 628.5,729.8 689.2,710 441.3,757.1 671.8,782.3 511,777.1 734.9,801.7 539.8,686.3 620.3,729.1 605.8,743 607.5,731.9 699,677.9 722.2,767 608.2,733.7 634.4,712.7 624.9,699 620.9,768.1 751.9,800.5 674.8,742.7 670.4,706.9 637.1,758.6 700.7,766.7 429.8,752.5 678.1,718.3 643.9,773.4 559.8,799 755.9,716.6 623.1,684.1 496.7,726.9 732.3,750.6 691.5,721.3 711.8,751.8 370.7,784 670.4,744.3 559.4,697.4 754,747 713.1,735.1 817.5,743.3 733.5,770 640.1,778.8 654.5,768.8 599.6,806.2 613.5,794.4 644.9,759.6 729.2,780 620.6,823.9 514,773.2 526.4,787.5 447.2,765.7 770.2,740.9 645.5,754.5 577.6,781.4 576.6,752.2 598.6,781.1 667.3,814.4 606.6,758.7 548.3,749.2 597.2,758.5 684.2,781.2 643,776.2 940,738 591,737.6 726.4,778.6 674.8,685.2 542,699 413.8,751.6 574.4,685.9 535.2,687.5 664.2,734 538,731.4 533,775.1 645.6,825 655.9,780.9 572.9,735.1 599.9,772.2 578.7,744.1 676.4,796 665,737.4 631.7,764.3 688.8,751.3 657.1,769.5 593.5,707.8 716.3,720.1 763,750.2 661.9,723 625.2,734.2 625.6,734.1 655.1,752.4 498.4,718.2 600.3,697.2 751.6,740.4 560.4,709.1 661.3,783.5 602.3,737.7 620.1,755.6 706.2,797.9 660.7,720.6 569.8,746.4 654,752.7 679.3,760.4 641.6,805.3 720.3,774.3 538.9,787.4 735.8,751 826.1,772 764.9,717.1 674.6,742.9 681.6,750.2 599.8,819.7 731.6,718.8 608.8,774.9 622.3,748.5 577.3,760.5 755.3,740.8 642.7,733.3 684.9,789 583,682.8 712.3,728.9 691.7,706.7 617.4,745.2 658.2,745.8 576.3,764.7 583.5,749.3 601.6,802.9 724.5,686.3 521.7,771.5 535.3,703.1 619.8,766.2 634.5,739.8 570.3,776.8 609.2,706.3 666.6,726.6 709.1,693.7 682.6,759.9 734.5,753 599.5,745.2 714.8,769.8 658.7,738 456.9,743.1 627.8,748.3 701,741.7 668.3,713.8 705.1,777.2 539.7,733.8 699.4,774.7 633.4,808.6 542.7,741.6 388.4,742.4 597.2,733.5 613.3,727.4 639.3,773.9 654.9,729.4 587.3,745.6 546.5,719 606.1,722.7 597.4,741 522.2,783.2 799,735.8 711.2,741.1 693.8,728.3 595.4,735.8 528.8,702.8 708.1,791.1 533.4,802 459.3,759.6 716.9,797.6 635.4,766.2 698.5,764 621,756.6 599.7,760.3 682.6,770.5 659.3,728.5 599.5,723.7 595.4,802.3 590.5,762.2 685.8,742.1 556,768.7 643.4,776.4 718.2,709.2 724.9,780.8 840,794 614.6,778.9 598.3,758.4 704.4,780.4 456.7,747.1 573.5,745.9 486.1,797 576.2,783.4 690.1,726.9 607.7,794.8 731.4,745.8 698.6,743.6 602.4,784.8 733,747.7 624,772.4 552.4,714.1 586.5,712.6 528.2,694.4 614.5,768.5 504.1,774.5 654.5,710.2 654.7,713.8 667.7,807 632,738.9 626.5,753.9 593.6,762.8 543.7,738.1 700.9,771.2 508.6,739.3 515.9,708.7 561.2,735.5 626.7,733.5 641.8,727.3 548.7,731.8 523.3,716 602.5,768 725,705 767.1,733.9 577.1,749.9 607.2,697.8 644,766 718,798.4 649.4,760.7 604.4,710.9 603.7,805.4 729.8,710.7 699.7,767.7 555.1,738.2 526.7,706.9 590.9,704.3 568.1,750 565.3,813.4 669.3,746.1 602.4,707.4 688.4,717.7 566.1,705.7 612,783.5 618.8,729.1 617.9,789 748.9,734.3 672.7,774.8 572.4,776.7 749.6,738.9 660.4,732.4 520.9,750.4 706.9,686.8 548,809.7 636.5,701.6 730.3,823.4 681.4,740.2 421.6,729 695.3,784.7 661.5,761.5 636.2,760.5 602.7,748.6 594.7,726.8 644.7,728.6 740.2,759.4 506.3,744.2 610.5,707.5 663.3,699.6 629.7,723.1 643.4,729.2 683.1,803.5 755.8,726.8 765.2,799.6 549.4,749.1 664.8,806.1 623.9,745.7 566.2,762.2 659.9,750.9 512.8,746.1 655.2,763.6 579.1,805.1 735,778.3 709.5,717.7 654.4,765.6 675.7,716.7 552,746.3 648.3,783.6 627.7,718.1 568.6,768.1 1007.8,758 606.9,754 512.9,737.3 573.8,763.3 689.2,748.6 560,790.7 526.8,721.8 610.5,764.5 538.7,790.8 749.5,778.9 615.3,722 699.9,798.9 683.1,803.7 705.5,704.7 551.3,683.1 602.8,836.9 674.3,722.7 839,769.8 539.7,734 543.1,743.7 545.5,732.9 577.4,810.5 430.2,731 577.2,741.1 613.6,765.4 611.6,780.6 615.3,782.8 493.9,738.1 668.6,760.7 547.2,732.7 776.5,720.8 514.7,771.5 634.9,729.9 655.3,766.8 526.4,713 637,754.6 619.7,748.1 658.7,685.3 629.8,790.1 371.2,723.5 522.1,812.3 598.8,780.7 674.9,761.9 692.6,783.5 639.3,764.9 856.5,763.1 713.9,805.1 554.9,771.2 635.1,809.3 647.4,687.5 717.6,793.5 600.8,778.5 517.2,764 480.6,747.8 610.9,739.2 738,718.6 706.5,762.8 628.5,786.3 668.7,729.5 690.4,792.3 682.2,797.7 655.1,705.7 653.5,794.8 748.2,760.2 710.3,708.1 612.8,760.1 660.5,756.9 756.2,737.1 550.2,728.3 622.5,787.8 550.9,753.3 588.6,777.1 690.1,741.8 557.4,766.4 668.4,695.6 640.8,698.7 657.5,795.4 657.3,739.2 583.5,731.4 443.8,723.2 533.5,799.5 673.9,742.1 607.3,711.4 921.2,765.9 835.8,826.2 620.6,740.8 629.5,806.4 617.5,766.6 628.3,741.7 637.1,759.8 669.2,757.7 567.6,797.3 527.6,709.9 620.1,737.4 762,731.1 658.1,736 635.7,735.4 604.7,805.8 735.2,695 643.9,737.7 406,789.4 608.1,762.4 623.5,782.8 744.7,720.9 564.9,759.8 760.5,762.4 743.1,758 664.9,703.6 621.8,785.8 610,767 610,768.6 734.2,761.6 767.7,788.7 580.3,762.1 626,743.1 664.7,742.5 693.2,692.3 535.6,723.6 591.4,800.2 636.4,706.3 555.4,695.6 707.4,760.2 518.1,749.5 718.6,726.9 658.4,749.3 567.2,757.6 675.7,746.6 572.9,698.6 668,804.9 553.1,719.7 745.3,767.8 753.6,771.8 703.1,749.9 609.8,722.4 704.9,752.1 575,757.9 691.6,743.8 652.1,778.1"/>
</defs>
<rect width="1309" height="1275" fill="#fff"/>
<g shape-rendering="crispEdges" fill="none" stroke-linejoin="round" stroke-width="2.1">
<use href="#pb" stroke="#0000d0"/>
<use href="#pr" stroke="#e00000" style="marker-start:url(#mr);marker-mid:url(#mr);marker-end:url(#mr)"/>
<use href="#pb" stroke="none" style="marker-start:url(#mb);marker-mid:url(#mb);marker-end:url(#mb)"/>
</g>
<path d="M425.9 39v35M425.9 1053v-35M630.1 39v35M630.1 1053v-35M834.3 39v35M834.3 1053v-35M1038.5 39v35M1038.5 1053v-35M224 150.2h35M1240 150.2h-35M224 376.1h35M1240 376.1h-35M224 602h35M1240 602h-35M224 828.2h35M1240 828.2h-35" stroke="#000" stroke-width="1.7" fill="none"/>
<rect x="221.5" y="36.5" width="1021" height="1019" fill="none" stroke="#000" stroke-width="5"/>
<g filter="url(#bw)">
<g font-size="64">
<text transform="translate(126.82 173.3) scale(1 1.045)"><tspan dx="2.7">1</tspan><tspan dx="-2.7">6</tspan></text><rect x="133.5" y="167.1" width="11.2" height="7.4" fill="#fff"/><rect x="151.4" y="167.1" width="12" height="7.4" fill="#fff"/>
<text transform="translate(126.82 399.2) scale(1 1.045)"><tspan dx="2.7">1</tspan><tspan dx="-2.7">2</tspan></text><rect x="133.5" y="393.0" width="11.2" height="7.4" fill="#fff"/><rect x="151.4" y="393.0" width="12" height="7.4" fill="#fff"/>
<text transform="translate(162.41 626.8) scale(1 1.045)">8</text>
<text transform="translate(162.41 852) scale(1 1.045)">4</text>
<text transform="translate(162.41 1079.6) scale(1 1.045)">0</text>
<text transform="translate(206.20 1119.6) scale(1 1.045)">0</text>
<text transform="translate(383.02 1119.6) scale(1 1.045)">0.5</text>
<text transform="translate(614.21 1119.6) scale(1 1.045)"><tspan dx="2.7">1</tspan></text><rect x="620.9" y="1113.4" width="11.2" height="7.4" fill="#fff"/><rect x="638.8" y="1113.4" width="12" height="7.4" fill="#fff"/>
<text transform="translate(792.52 1119.6) scale(1 1.045)"><tspan dx="2.7">1</tspan><tspan dx="-2.7">.5</tspan></text><rect x="799.2" y="1113.4" width="11.2" height="7.4" fill="#fff"/><rect x="817.1" y="1113.4" width="12" height="7.4" fill="#fff"/>
<text transform="translate(1021.71 1119.6) scale(1 1.045)">2</text>
<text transform="translate(1199.52 1119.6) scale(1 1.045)">2.5</text>
</g>
<g font-size="72">
<text transform="translate(66.8 944) rotate(-90)">Intensity</text>
<text transform="translate(66.8 658.6) rotate(-90) scale(.98 1)">(arbitrary</text>
<text transform="translate(66.8 354.8) rotate(-90) scale(.991 1)">units)</text>
</g>
<text font-size="72" y="1223"><tspan class="s" x="609">ΔΦ</tspan><tspan x="711">/</tspan><tspan class="s" x="728">ΔΦ</tspan><tspan font-size="52" x="831.3" y="1257">0</tspan></text>
</g>
<g filter="url(#al)">
<text font-size="64" x="894.6" y="343.8" letter-spacing="0" style="fill:#0000dc;stroke:#0000dc">unfresh</text>
<text font-size="64" x="778" y="938.6" letter-spacing="0.15" style="fill:#e00000;stroke:#e00000">fresh</text>
</g>
</svg>
</body></html>
